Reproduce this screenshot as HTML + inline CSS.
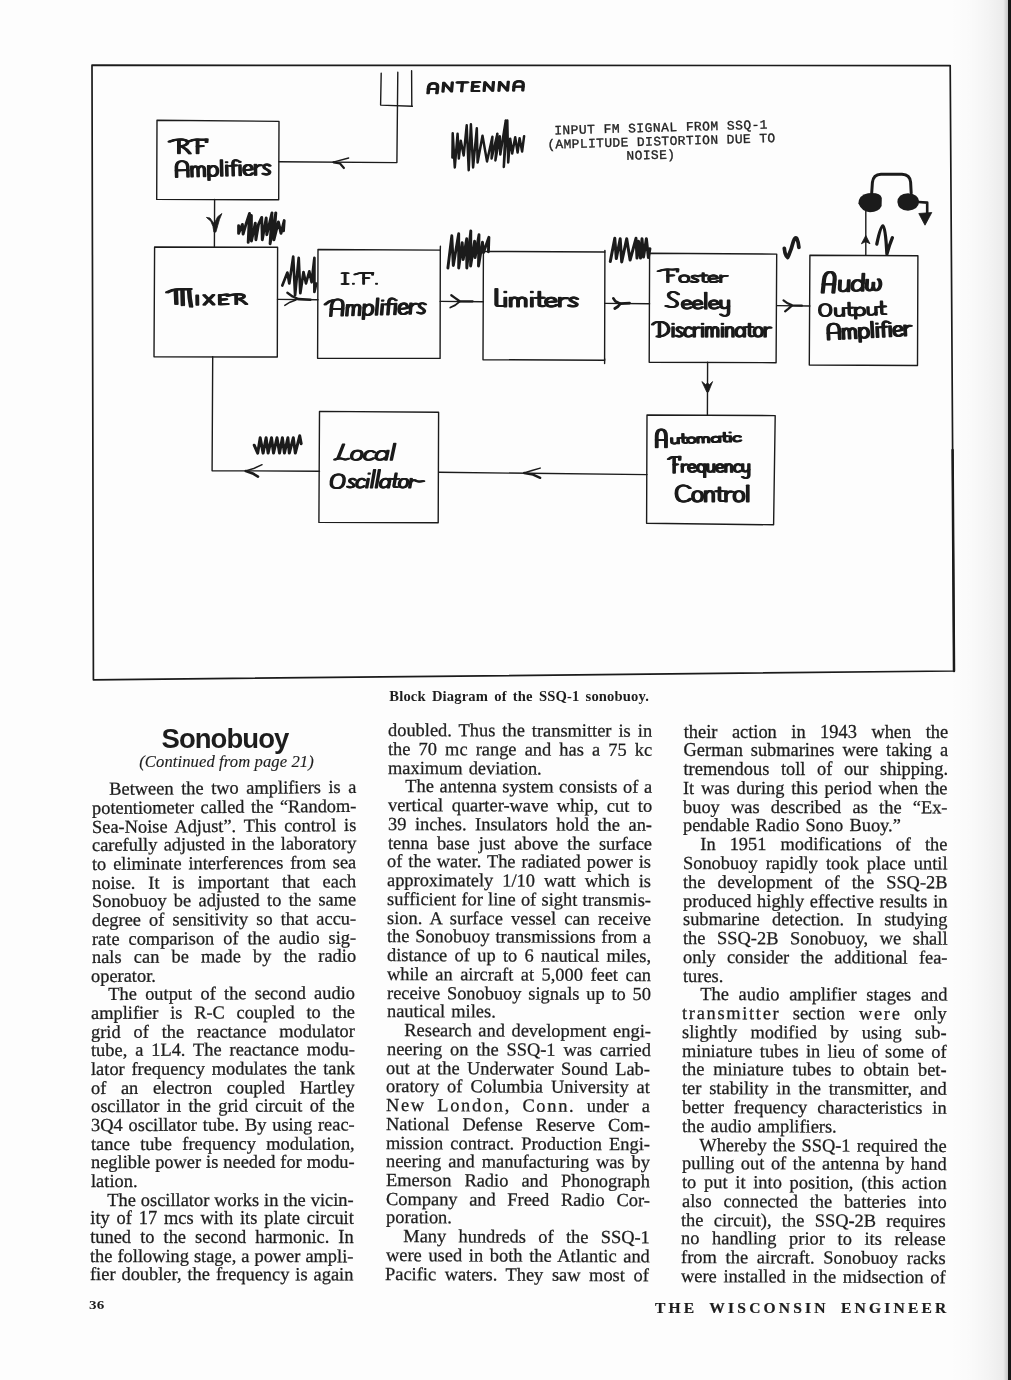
<!DOCTYPE html>
<html><head><meta charset="utf-8"><title>Sonobuoy</title>
<style>
html,body{margin:0;padding:0}
body{width:1011px;height:1380px;position:relative;overflow:hidden;background:#fdfdfd;
 font-family:"Liberation Serif",serif;color:#1d1d1d}
.l{position:absolute;white-space:nowrap;font-size:18.4px;line-height:18.73px;height:18.73px;
 letter-spacing:0.0px;text-align:justify;text-align-last:justify;transform-origin:0 15.5px;box-sizing:content-box;-webkit-text-stroke:.27px #1d1d1d}
.sp{letter-spacing:1.7px;margin-right:-1.7px}
.l.e{text-align:left;text-align-last:left;word-spacing:1.5px}
.abs{position:absolute;white-space:nowrap}
#edge{position:absolute;left:1008px;top:0;width:3px;height:1380px;background:#161616}
#shade{position:absolute;left:950px;top:0;width:58px;height:1380px;
 background:linear-gradient(90deg,rgba(0,0,0,0) 0%,rgba(0,0,0,.012) 35%,rgba(0,0,0,.035) 65%,rgba(0,0,0,.07) 92%,rgba(0,0,0,.22) 100%)}
svg{position:absolute;left:0;top:0}
#pagewrap{position:absolute;left:0;top:0;width:1011px;height:1380px;will-change:transform;opacity:.999;filter:blur(.35px)}
</style></head><body>
<div id="shade"></div><div id="edge"></div><div id="pagewrap">
<svg width="1011" height="720" viewBox="0 0 1011 720">
<path d="M92.0,65.2 L950.2,65.6 L954.0,671.0 L93.4,679.8 Z" fill="none" stroke="#1b1b1b" stroke-width="1.7" stroke-linecap="round" stroke-linejoin="round" />
<path d="M952.6,450.0 L954.0,671.0" fill="none" stroke="#1b1b1b" stroke-width="2.5" stroke-linecap="round" stroke-linejoin="round" />
<path d="M157.0,120.2 L279.0,121.4 L278.7,199.8 L156.7,199.4 Z" fill="none" stroke="#1b1b1b" stroke-width="1.4" stroke-linecap="round" stroke-linejoin="round" />
<path d="M154.6,247.0 L277.6,247.3 L277.3,357.0 L154.0,356.7 Z" fill="none" stroke="#1b1b1b" stroke-width="1.4" stroke-linecap="round" stroke-linejoin="round" />
<path d="M318.0,249.5 L440.3,250.1 L440.1,358.4 L317.6,358.2 Z" fill="none" stroke="#1b1b1b" stroke-width="1.4" stroke-linecap="round" stroke-linejoin="round" />
<path d="M440.4,246.2 L440.3,250.0" fill="none" stroke="#1b1b1b" stroke-width="1.4" stroke-linecap="round" stroke-linejoin="round" />
<path d="M483.4,251.4 L604.9,252.0 L604.6,360.3 L483.0,359.7 Z" fill="none" stroke="#1b1b1b" stroke-width="1.4" stroke-linecap="round" stroke-linejoin="round" />
<path d="M604.9,250.4 L604.9,252.0" fill="none" stroke="#1b1b1b" stroke-width="1.4" stroke-linecap="round" stroke-linejoin="round" />
<path d="M604.7,359.0 L604.6,363.5" fill="none" stroke="#1b1b1b" stroke-width="1.4" stroke-linecap="round" stroke-linejoin="round" />
<path d="M649.6,253.3 L776.7,254.1 L776.1,362.7 L649.2,362.3 Z" fill="none" stroke="#1b1b1b" stroke-width="1.4" stroke-linecap="round" stroke-linejoin="round" />
<path d="M809.9,255.3 L917.9,255.7 L917.5,365.5 L809.3,365.0 Z" fill="none" stroke="#1b1b1b" stroke-width="1.4" stroke-linecap="round" stroke-linejoin="round" />
<path d="M319.5,411.4 L438.6,412.2 L438.2,522.7 L318.9,522.4 Z" fill="none" stroke="#1b1b1b" stroke-width="1.4" stroke-linecap="round" stroke-linejoin="round" />
<path d="M647.0,415.0 L775.2,415.6 L773.6,524.8 L646.6,523.3 Z" fill="none" stroke="#1b1b1b" stroke-width="1.4" stroke-linecap="round" stroke-linejoin="round" />
<path d="M381.2,73.1 L380.6,105.1 L412.4,106.3" fill="none" stroke="#1b1b1b" stroke-width="1.4" stroke-linecap="round" stroke-linejoin="round" />
<path d="M411.6,70.7 L411.8,106.2" fill="none" stroke="#1b1b1b" stroke-width="1.4" stroke-linecap="round" stroke-linejoin="round" />
<path d="M397.8,72.3 L396.9,162.6 L279.0,161.8" fill="none" stroke="#1b1b1b" stroke-width="1.4" stroke-linecap="round" stroke-linejoin="round" />
<path d="M214.6,199.4 L214.4,247.0" fill="none" stroke="#1b1b1b" stroke-width="1.4" stroke-linecap="round" stroke-linejoin="round" />
<path d="M277.5,299.4 L318.0,299.8" fill="none" stroke="#1b1b1b" stroke-width="1.4" stroke-linecap="round" stroke-linejoin="round" />
<path d="M440.2,301.4 L483.4,301.7" fill="none" stroke="#1b1b1b" stroke-width="1.4" stroke-linecap="round" stroke-linejoin="round" />
<path d="M604.8,303.4 L649.6,303.7" fill="none" stroke="#1b1b1b" stroke-width="1.4" stroke-linecap="round" stroke-linejoin="round" />
<path d="M776.6,305.6 L809.9,306.0" fill="none" stroke="#1b1b1b" stroke-width="1.4" stroke-linecap="round" stroke-linejoin="round" />
<path d="M707.6,362.3 L707.4,415.3" fill="none" stroke="#1b1b1b" stroke-width="1.4" stroke-linecap="round" stroke-linejoin="round" />
<path d="M865.8,255.4 L865.8,211.5" fill="none" stroke="#1b1b1b" stroke-width="1.4" stroke-linecap="round" stroke-linejoin="round" />
<path d="M212.7,356.7 L212.1,470.7 L319.5,471.2" fill="none" stroke="#1b1b1b" stroke-width="1.4" stroke-linecap="round" stroke-linejoin="round" />
<path d="M438.6,472.3 L647.0,474.6" fill="none" stroke="#1b1b1b" stroke-width="1.4" stroke-linecap="round" stroke-linejoin="round" />
<path d="M348.7,158.0 L333.2,162.1" fill="none" stroke="#1b1b1b" stroke-width="1.3" stroke-linecap="round" stroke-linejoin="round" />
<path d="M333.6,162.3 L340.0,163.5 L343.9,168.0" fill="none" stroke="#1b1b1b" stroke-width="2.2" stroke-linecap="round" stroke-linejoin="round" />
<path d="M206.4,217.4 L210.0,218.0 L213.6,222.9 L215.2,221.6 L217.7,216.7 L221.9,213.5 L219.5,219.3 L217.7,225.7 L215.9,232.1 L213.9,232.1 L212.9,226.3 L210.8,221.2 Z" fill="#1b1b1b" stroke="#1b1b1b" stroke-width="0.8" stroke-linejoin="round"/>
<path d="M287.4,292.8 L292.5,296.4 L298.3,299.0 L310.5,299.7" fill="none" stroke="#1b1b1b" stroke-width="2.4" stroke-linecap="round" stroke-linejoin="round" />
<path d="M284.8,305.4 L290.0,302.2 L295.8,300.0" fill="none" stroke="#1b1b1b" stroke-width="1.5" stroke-linecap="round" stroke-linejoin="round" />
<path d="M451.3,295.2 L455.3,298.1 L459.7,301.3 L472.6,301.3" fill="none" stroke="#1b1b1b" stroke-width="2.3" stroke-linecap="round" stroke-linejoin="round" />
<path d="M450.3,307.5 L455.3,305.1 L459.7,301.5" fill="none" stroke="#1b1b1b" stroke-width="1.8" stroke-linecap="round" stroke-linejoin="round" />
<path d="M613.3,298.3 L615.3,301.3 L620.2,303.6 L629.6,303.1" fill="none" stroke="#1b1b1b" stroke-width="2.6" stroke-linecap="round" stroke-linejoin="round" />
<path d="M614.8,308.5 L617.6,306.8 L620.2,303.8" fill="none" stroke="#1b1b1b" stroke-width="2.8" stroke-linecap="round" stroke-linejoin="round" />
<path d="M783.5,300.4 L787.7,303.3 L792.2,305.3 L801.9,305.6" fill="none" stroke="#1b1b1b" stroke-width="2.2" stroke-linecap="round" stroke-linejoin="round" />
<path d="M785.1,311.3 L788.2,308.8 L791.9,305.6" fill="none" stroke="#1b1b1b" stroke-width="2.2" stroke-linecap="round" stroke-linejoin="round" />
<path d="M701.9,381.6 L705.5,384.5 L707.5,383.2 L709.6,384.5 L712.6,381.6 L708.4,392.0 L706.8,392.0 Z" fill="#1b1b1b" stroke="#1b1b1b" stroke-width="0.8" stroke-linejoin="round"/>
<path d="M865.8,235.5 L870.0,243.8 L867.0,242.2 L865.8,242.0 L864.6,242.2 L861.4,243.8 Z" fill="#1b1b1b" stroke="#1b1b1b" stroke-width="0.8" stroke-linejoin="round"/>
<path d="M262.1,464.7 L253.7,468.5 L245.6,470.9" fill="none" stroke="#1b1b1b" stroke-width="1.4" stroke-linecap="round" stroke-linejoin="round" />
<path d="M245.8,471.0 L252.7,473.4 L258.0,476.6" fill="none" stroke="#1b1b1b" stroke-width="2.6" stroke-linecap="round" stroke-linejoin="round" />
<path d="M540.2,468.1 L532.0,470.5 L524.0,472.9" fill="none" stroke="#1b1b1b" stroke-width="1.5" stroke-linecap="round" stroke-linejoin="round" />
<path d="M524.2,473.0 L533.0,474.6 L540.2,477.9" fill="none" stroke="#1b1b1b" stroke-width="2.3" stroke-linecap="round" stroke-linejoin="round" />
<path d="M452.4,157.5 L452.7,133.2 L454.8,167.4 L457.6,133.7 L458.8,158.5 L460.8,140.7 L463.7,155.5 L466.7,125.3 L468.7,170.3 L470.9,124.3 L473.1,167.4 L476.8,128.3 L477.6,162.4 L482.5,135.7 L487.0,161.4 L492.4,136.7 L491.6,158.5 L497.4,133.7 L495.4,160.4 L499.8,136.2 L500.3,154.5 L505.8,120.4 L503.8,166.9 L507.3,120.4 L508.2,162.4 L510.2,138.7 L512.2,153.5 L515.2,137.2 L517.6,152.5 L519.6,138.2 L522.1,151.5 L524.1,136.2" fill="none" stroke="#1b1b1b" stroke-width="2.5" stroke-linecap="round" stroke-linejoin="round" />
<path d="M238.6,225.7 L238.6,233.4 L242.4,224.4 L243.1,234.1 L246.3,223.1 L249.5,213.5 L248.2,242.4 L251.4,215.4 L251.4,241.1 L255.3,223.1 L255.9,239.8 L258.5,224.4 L261.7,217.4 L262.3,239.8 L266.2,218.0 L266.8,234.7 L272.0,212.9 L270.1,243.7 L275.8,212.9 L273.9,239.8 L278.4,221.9 L281.0,233.4 L284.2,220.6 L283.5,230.8" fill="none" stroke="#1b1b1b" stroke-width="2.9" stroke-linecap="round" stroke-linejoin="round" />
<path d="M282.3,285.5 L287.4,272.6 L289.3,283.5 L293.2,256.6 L295.1,295.1 L298.7,257.8 L300.3,293.2 L303.5,272.0 L306.0,283.5 L309.3,271.3 L311.6,282.3 L314.4,257.8 L314.4,291.9 L316.3,283.5" fill="none" stroke="#1b1b1b" stroke-width="2.7" stroke-linecap="round" stroke-linejoin="round" />
<path d="M447.9,268.0 L451.8,235.8 L453.3,265.5 L458.7,233.8 L458.7,268.0 L462.2,242.7 L463.2,259.6 L466.7,238.8 L466.8,268.0 L470.8,230.9 L470.6,266.0 L474.6,241.3 L475.1,257.6 L479.0,234.8 L478.5,266.0 L482.5,242.3 L483.5,252.6 L488.9,237.3 L488.4,251.7" fill="none" stroke="#1b1b1b" stroke-width="2.9" stroke-linecap="round" stroke-linejoin="round" />
<path d="M610.3,261.5 L614.8,238.3 L616.3,258.6 L620.2,238.8 L621.7,262.0 L626.7,238.8 L630.1,260.1 L636.0,238.3 L637.0,258.1 L638.5,241.3 L640.5,258.1 L642.0,238.8 L643.5,257.1 L646.4,238.8 L648.4,257.6 L649.9,248.7" fill="none" stroke="#1b1b1b" stroke-width="3.0" stroke-linecap="round" stroke-linejoin="round" />
<path d="M254.2,445.2 L257.7,453.1 L260.2,437.8 L263.1,453.1 L266.1,437.8 L268.1,453.1 L271.5,437.8 L273.5,453.1 L277.0,437.8 L279.5,453.1 L282.4,437.8 L284.4,453.1 L287.9,437.8 L289.3,453.1 L293.3,437.8 L295.3,453.1 L299.7,435.8 L301.2,443.7" fill="none" stroke="#1b1b1b" stroke-width="3.0" stroke-linecap="round" stroke-linejoin="round" />
<path d="M784.3,248.3 Q785.1,256.2 787.7,257.5 Q791.0,250.8 793.5,241.0 Q795.2,236.0 796.9,238.7 Q798.6,242.4 798.9,247.4" fill="none" stroke="#1b1b1b" stroke-width="3.7" stroke-linecap="round" stroke-linejoin="round"/>
<path d="M876.8,244.1 Q880.5,226 883,225.8 Q885.5,226 886.9,254 Q889,246 892.4,237.7" fill="none" stroke="#1b1b1b" stroke-width="3.3" stroke-linecap="round" stroke-linejoin="round"/>
<path d="M871.7,193 L872.4,182.5 Q873.2,174.4 881,174.2 L902,174.2 Q910,174.6 910.6,182 L911.2,193" fill="none" stroke="#1b1b1b" stroke-width="3" stroke-linecap="round"/>
<path d="M858.4,203.5 Q858.6,195 868,193.2 Q880.5,192 881.8,198 L881.6,206 Q879,212 870,212.2 Q862,212 858.4,203.5 Z" fill="#1b1b1b"/>
<path d="M897.4,202 Q897.6,194 908,193.2 Q918.6,194 919.2,201.6 Q918.6,210 908,210.7 Q898,210.4 897.4,202 Z" fill="#1b1b1b"/>
<path d="M918.5,202.0 L927.2,202.6 L927.2,214.0" fill="none" stroke="#1b1b1b" stroke-width="2.6" stroke-linecap="round" stroke-linejoin="round" />
<path d="M918.8,213.5 L931.8,212.5 L925.0,225.2 Z" fill="#1b1b1b" stroke="#1b1b1b" stroke-width="0.8" stroke-linejoin="round"/>
<text transform="translate(554.4,134.4) rotate(-1.55)" font-family="Liberation Mono, monospace" font-size="12.9" fill="#222" stroke="#222" stroke-width="0.35" textLength="213.3" lengthAdjust="spacing">INPUT FM SIGNAL FROM SSQ-1</text>
<text transform="translate(547.4,148.6) rotate(-1.65)" font-family="Liberation Mono, monospace" font-size="12.9" fill="#222" stroke="#222" stroke-width="0.35" textLength="228" lengthAdjust="spacing">(AMPLITUDE DISTORTION DUE TO</text>
<text transform="translate(626.6,159.7) rotate(-1.4)" font-family="Liberation Mono, monospace" font-size="12.9" fill="#222" stroke="#222" stroke-width="0.35" textLength="48.5" lengthAdjust="spacing">NOISE)</text>
<g fill="none" stroke="#1b1b1b" stroke-width="1.9" stroke-linecap="round" stroke-linejoin="round"><g transform="translate(172.90,153.33) rotate(0.00) skewX(-0.0) scale(1.481,0.897)"><path transform="translate(0.00,0)" d="M3.4,-14.6 L3.4,0" vector-effect="non-scaling-stroke"/><path transform="translate(0.00,0)" d="M-3,-13 Q1,-16 5.6,-15.4 Q9.4,-14.8 9.2,-11.6 Q8.8,-8.4 4,-7.8" vector-effect="non-scaling-stroke"/><path transform="translate(0.00,0)" d="M5.4,-7.6 Q8.6,-5 10.8,.2" vector-effect="non-scaling-stroke"/><path transform="translate(12.60,0)" d="M3.4,-14.8 L3.4,0" vector-effect="non-scaling-stroke"/><path transform="translate(12.60,0)" d="M-2.6,-13.2 Q1,-16 5,-15.2 Q7.6,-14.8 9.6,-15.6 L9.4,-12.6" vector-effect="non-scaling-stroke"/><path transform="translate(12.60,0)" d="M3.4,-7.8 L7,-8.2" vector-effect="non-scaling-stroke"/></g><g transform="translate(173.90,153.33) rotate(0.00) skewX(-0.0) scale(1.481,0.897)"><path transform="translate(0.00,0)" d="M3.4,-14.6 L3.4,0" vector-effect="non-scaling-stroke"/><path transform="translate(0.00,0)" d="M-3,-13 Q1,-16 5.6,-15.4 Q9.4,-14.8 9.2,-11.6 Q8.8,-8.4 4,-7.8" vector-effect="non-scaling-stroke"/><path transform="translate(0.00,0)" d="M5.4,-7.6 Q8.6,-5 10.8,.2" vector-effect="non-scaling-stroke"/><path transform="translate(12.60,0)" d="M3.4,-14.8 L3.4,0" vector-effect="non-scaling-stroke"/><path transform="translate(12.60,0)" d="M-2.6,-13.2 Q1,-16 5,-15.2 Q7.6,-14.8 9.6,-15.6 L9.4,-12.6" vector-effect="non-scaling-stroke"/><path transform="translate(12.60,0)" d="M3.4,-7.8 L7,-8.2" vector-effect="non-scaling-stroke"/></g><g transform="translate(174.90,153.33) rotate(0.00) skewX(-0.0) scale(1.481,0.897)"><path transform="translate(0.00,0)" d="M3.4,-14.6 L3.4,0" vector-effect="non-scaling-stroke"/><path transform="translate(0.00,0)" d="M-3,-13 Q1,-16 5.6,-15.4 Q9.4,-14.8 9.2,-11.6 Q8.8,-8.4 4,-7.8" vector-effect="non-scaling-stroke"/><path transform="translate(0.00,0)" d="M5.4,-7.6 Q8.6,-5 10.8,.2" vector-effect="non-scaling-stroke"/><path transform="translate(12.60,0)" d="M3.4,-14.8 L3.4,0" vector-effect="non-scaling-stroke"/><path transform="translate(12.60,0)" d="M-2.6,-13.2 Q1,-16 5,-15.2 Q7.6,-14.8 9.6,-15.6 L9.4,-12.6" vector-effect="non-scaling-stroke"/><path transform="translate(12.60,0)" d="M3.4,-7.8 L7,-8.2" vector-effect="non-scaling-stroke"/></g></g>
<g fill="none" stroke="#1b1b1b" stroke-width="1.8" stroke-linecap="round" stroke-linejoin="round"><g transform="translate(173.70,177.03) rotate(-1.50) skewX(-0.0) scale(1.561,1.017)"><path transform="translate(0.00,0)" d="M1.3,0 L1.3,-10 Q1.6,-15.5 4.9,-15.5 Q8.3,-15.5 8.6,-10 L8.6,0" vector-effect="non-scaling-stroke"/><path transform="translate(0.00,0)" d="M1.3,-6.4 L8.6,-6.4" vector-effect="non-scaling-stroke"/><path transform="translate(10.00,0)" d="M1.2,-10 L1.2,0" vector-effect="non-scaling-stroke"/><path transform="translate(10.00,0)" d="M1.2,-7.4 Q2.4,-10.6 3.8,-9.9 Q5.1,-9.2 5.1,-7 L5.1,0" vector-effect="non-scaling-stroke"/><path transform="translate(10.00,0)" d="M5.1,-7.4 Q6.4,-10.6 7.8,-9.9 Q9.2,-9.2 9.2,-7 L9.2,0" vector-effect="non-scaling-stroke"/><path transform="translate(20.80,0)" d="M1.2,-10 L1.2,3.8" vector-effect="non-scaling-stroke"/><path transform="translate(20.80,0)" d="M1.2,-7 Q3,-10.6 4.9,-9.8 Q6.8,-8.8 6.8,-5 Q6.8,-.6 4.3,0 Q2.6,.3 1.2,-2" vector-effect="non-scaling-stroke"/><path transform="translate(28.60,0)" d="M1.65,-15.5 L1.65,0" vector-effect="non-scaling-stroke"/><path transform="translate(31.90,0)" d="M1.65,-10 L1.65,0" vector-effect="non-scaling-stroke"/><path transform="translate(31.90,0)" d="M1.65,-13.4 L1.65,-13.1" vector-effect="non-scaling-stroke"/><path transform="translate(35.20,0)" d="M5.6,-14.4 Q3,-16.4 2.4,-12.6 L2.4,0" vector-effect="non-scaling-stroke"/><path transform="translate(35.20,0)" d="M.2,-9.6 L4.8,-9.8" vector-effect="non-scaling-stroke"/><path transform="translate(40.40,0)" d="M1.65,-10 L1.65,0" vector-effect="non-scaling-stroke"/><path transform="translate(40.40,0)" d="M1.65,-13.4 L1.65,-13.1" vector-effect="non-scaling-stroke"/><path transform="translate(43.70,0)" d="M1,-4.8 L6.1,-5.6 Q6,-10 3.5,-10 Q.8,-9.6 .8,-5 Q1,0 3.8,0 Q5.4,0 6.4,-1.8" vector-effect="non-scaling-stroke"/><path transform="translate(50.70,0)" d="M1.2,-10 L1.2,0" vector-effect="non-scaling-stroke"/><path transform="translate(50.70,0)" d="M1.2,-6.8 Q2.8,-10.4 5.2,-9.3" vector-effect="non-scaling-stroke"/><path transform="translate(56.10,0)" d="M5.1,-8.6 Q3.5,-10.6 2,-9.6 Q.5,-8 2,-6 L3.9,-4.2 Q5.6,-2.4 4.3,-.8 Q2.9,.7 .6,-1.1" vector-effect="non-scaling-stroke"/></g><g transform="translate(174.60,177.03) rotate(-1.50) skewX(-0.0) scale(1.561,1.017)"><path transform="translate(0.00,0)" d="M1.3,0 L1.3,-10 Q1.6,-15.5 4.9,-15.5 Q8.3,-15.5 8.6,-10 L8.6,0" vector-effect="non-scaling-stroke"/><path transform="translate(0.00,0)" d="M1.3,-6.4 L8.6,-6.4" vector-effect="non-scaling-stroke"/><path transform="translate(10.00,0)" d="M1.2,-10 L1.2,0" vector-effect="non-scaling-stroke"/><path transform="translate(10.00,0)" d="M1.2,-7.4 Q2.4,-10.6 3.8,-9.9 Q5.1,-9.2 5.1,-7 L5.1,0" vector-effect="non-scaling-stroke"/><path transform="translate(10.00,0)" d="M5.1,-7.4 Q6.4,-10.6 7.8,-9.9 Q9.2,-9.2 9.2,-7 L9.2,0" vector-effect="non-scaling-stroke"/><path transform="translate(20.80,0)" d="M1.2,-10 L1.2,3.8" vector-effect="non-scaling-stroke"/><path transform="translate(20.80,0)" d="M1.2,-7 Q3,-10.6 4.9,-9.8 Q6.8,-8.8 6.8,-5 Q6.8,-.6 4.3,0 Q2.6,.3 1.2,-2" vector-effect="non-scaling-stroke"/><path transform="translate(28.60,0)" d="M1.65,-15.5 L1.65,0" vector-effect="non-scaling-stroke"/><path transform="translate(31.90,0)" d="M1.65,-10 L1.65,0" vector-effect="non-scaling-stroke"/><path transform="translate(31.90,0)" d="M1.65,-13.4 L1.65,-13.1" vector-effect="non-scaling-stroke"/><path transform="translate(35.20,0)" d="M5.6,-14.4 Q3,-16.4 2.4,-12.6 L2.4,0" vector-effect="non-scaling-stroke"/><path transform="translate(35.20,0)" d="M.2,-9.6 L4.8,-9.8" vector-effect="non-scaling-stroke"/><path transform="translate(40.40,0)" d="M1.65,-10 L1.65,0" vector-effect="non-scaling-stroke"/><path transform="translate(40.40,0)" d="M1.65,-13.4 L1.65,-13.1" vector-effect="non-scaling-stroke"/><path transform="translate(43.70,0)" d="M1,-4.8 L6.1,-5.6 Q6,-10 3.5,-10 Q.8,-9.6 .8,-5 Q1,0 3.8,0 Q5.4,0 6.4,-1.8" vector-effect="non-scaling-stroke"/><path transform="translate(50.70,0)" d="M1.2,-10 L1.2,0" vector-effect="non-scaling-stroke"/><path transform="translate(50.70,0)" d="M1.2,-6.8 Q2.8,-10.4 5.2,-9.3" vector-effect="non-scaling-stroke"/><path transform="translate(56.10,0)" d="M5.1,-8.6 Q3.5,-10.6 2,-9.6 Q.5,-8 2,-6 L3.9,-4.2 Q5.6,-2.4 4.3,-.8 Q2.9,.7 .6,-1.1" vector-effect="non-scaling-stroke"/></g><g transform="translate(175.50,177.03) rotate(-1.50) skewX(-0.0) scale(1.561,1.017)"><path transform="translate(0.00,0)" d="M1.3,0 L1.3,-10 Q1.6,-15.5 4.9,-15.5 Q8.3,-15.5 8.6,-10 L8.6,0" vector-effect="non-scaling-stroke"/><path transform="translate(0.00,0)" d="M1.3,-6.4 L8.6,-6.4" vector-effect="non-scaling-stroke"/><path transform="translate(10.00,0)" d="M1.2,-10 L1.2,0" vector-effect="non-scaling-stroke"/><path transform="translate(10.00,0)" d="M1.2,-7.4 Q2.4,-10.6 3.8,-9.9 Q5.1,-9.2 5.1,-7 L5.1,0" vector-effect="non-scaling-stroke"/><path transform="translate(10.00,0)" d="M5.1,-7.4 Q6.4,-10.6 7.8,-9.9 Q9.2,-9.2 9.2,-7 L9.2,0" vector-effect="non-scaling-stroke"/><path transform="translate(20.80,0)" d="M1.2,-10 L1.2,3.8" vector-effect="non-scaling-stroke"/><path transform="translate(20.80,0)" d="M1.2,-7 Q3,-10.6 4.9,-9.8 Q6.8,-8.8 6.8,-5 Q6.8,-.6 4.3,0 Q2.6,.3 1.2,-2" vector-effect="non-scaling-stroke"/><path transform="translate(28.60,0)" d="M1.65,-15.5 L1.65,0" vector-effect="non-scaling-stroke"/><path transform="translate(31.90,0)" d="M1.65,-10 L1.65,0" vector-effect="non-scaling-stroke"/><path transform="translate(31.90,0)" d="M1.65,-13.4 L1.65,-13.1" vector-effect="non-scaling-stroke"/><path transform="translate(35.20,0)" d="M5.6,-14.4 Q3,-16.4 2.4,-12.6 L2.4,0" vector-effect="non-scaling-stroke"/><path transform="translate(35.20,0)" d="M.2,-9.6 L4.8,-9.8" vector-effect="non-scaling-stroke"/><path transform="translate(40.40,0)" d="M1.65,-10 L1.65,0" vector-effect="non-scaling-stroke"/><path transform="translate(40.40,0)" d="M1.65,-13.4 L1.65,-13.1" vector-effect="non-scaling-stroke"/><path transform="translate(43.70,0)" d="M1,-4.8 L6.1,-5.6 Q6,-10 3.5,-10 Q.8,-9.6 .8,-5 Q1,0 3.8,0 Q5.4,0 6.4,-1.8" vector-effect="non-scaling-stroke"/><path transform="translate(50.70,0)" d="M1.2,-10 L1.2,0" vector-effect="non-scaling-stroke"/><path transform="translate(50.70,0)" d="M1.2,-6.8 Q2.8,-10.4 5.2,-9.3" vector-effect="non-scaling-stroke"/><path transform="translate(56.10,0)" d="M5.1,-8.6 Q3.5,-10.6 2,-9.6 Q.5,-8 2,-6 L3.9,-4.2 Q5.6,-2.4 4.3,-.8 Q2.9,.7 .6,-1.1" vector-effect="non-scaling-stroke"/></g></g>
<g fill="none" stroke="#1b1b1b" stroke-width="2.0" stroke-linecap="round" stroke-linejoin="round"><g transform="translate(169.55,305.78) rotate(0.00) skewX(-0.0) scale(1.472,1.085)"><path transform="translate(0.00,0)" d="M-2.4,-12.4 Q2,-16 8,-15.2 Q12,-15 13.4,-15.4" vector-effect="non-scaling-stroke"/><path transform="translate(0.00,0)" d="M3.4,-14.4 L3.8,-1.6" vector-effect="non-scaling-stroke"/><path transform="translate(0.00,0)" d="M7.9,-14.8 L8.2,-.6" vector-effect="non-scaling-stroke"/><path transform="translate(0.00,0)" d="M12.4,-15 Q12.6,-8 13.8,.8" vector-effect="non-scaling-stroke"/></g><g transform="translate(170.80,305.78) rotate(0.00) skewX(-0.0) scale(1.472,1.085)"><path transform="translate(0.00,0)" d="M-2.4,-12.4 Q2,-16 8,-15.2 Q12,-15 13.4,-15.4" vector-effect="non-scaling-stroke"/><path transform="translate(0.00,0)" d="M3.4,-14.4 L3.8,-1.6" vector-effect="non-scaling-stroke"/><path transform="translate(0.00,0)" d="M7.9,-14.8 L8.2,-.6" vector-effect="non-scaling-stroke"/><path transform="translate(0.00,0)" d="M12.4,-15 Q12.6,-8 13.8,.8" vector-effect="non-scaling-stroke"/></g><g transform="translate(172.05,305.78) rotate(0.00) skewX(-0.0) scale(1.472,1.085)"><path transform="translate(0.00,0)" d="M-2.4,-12.4 Q2,-16 8,-15.2 Q12,-15 13.4,-15.4" vector-effect="non-scaling-stroke"/><path transform="translate(0.00,0)" d="M3.4,-14.4 L3.8,-1.6" vector-effect="non-scaling-stroke"/><path transform="translate(0.00,0)" d="M7.9,-14.8 L8.2,-.6" vector-effect="non-scaling-stroke"/><path transform="translate(0.00,0)" d="M12.4,-15 Q12.6,-8 13.8,.8" vector-effect="non-scaling-stroke"/></g></g>
<g fill="none" stroke="#1b1b1b" stroke-width="1.9" stroke-linecap="round" stroke-linejoin="round"><g transform="translate(193.50,304.86) rotate(-1.00) skewX(-0.0) scale(1.366,0.640)"><path transform="translate(0.00,0)" d="M2.1,-14.6 L2.1,0" vector-effect="non-scaling-stroke"/><path transform="translate(6.40,0)" d="M.8,-15 L7.6,0" vector-effect="non-scaling-stroke"/><path transform="translate(6.40,0)" d="M7.6,-15 L.8,0" vector-effect="non-scaling-stroke"/><path transform="translate(17.00,0)" d="M1.6,-14.4 L1.6,0 L7.4,-.4" vector-effect="non-scaling-stroke"/><path transform="translate(17.00,0)" d="M1.6,-14.4 L7.4,-15.4" vector-effect="non-scaling-stroke"/><path transform="translate(17.00,0)" d="M1.6,-7.4 L6.4,-8" vector-effect="non-scaling-stroke"/><path transform="translate(27.20,0)" d="M3.4,-14.6 L3.4,0" vector-effect="non-scaling-stroke"/><path transform="translate(27.20,0)" d="M-3,-13 Q1,-16 5.6,-15.4 Q9.4,-14.8 9.2,-11.6 Q8.8,-8.4 4,-7.8" vector-effect="non-scaling-stroke"/><path transform="translate(27.20,0)" d="M5.4,-7.6 Q8.6,-5 10.8,.2" vector-effect="non-scaling-stroke"/></g><g transform="translate(194.50,304.86) rotate(-1.00) skewX(-0.0) scale(1.366,0.640)"><path transform="translate(0.00,0)" d="M2.1,-14.6 L2.1,0" vector-effect="non-scaling-stroke"/><path transform="translate(6.40,0)" d="M.8,-15 L7.6,0" vector-effect="non-scaling-stroke"/><path transform="translate(6.40,0)" d="M7.6,-15 L.8,0" vector-effect="non-scaling-stroke"/><path transform="translate(17.00,0)" d="M1.6,-14.4 L1.6,0 L7.4,-.4" vector-effect="non-scaling-stroke"/><path transform="translate(17.00,0)" d="M1.6,-14.4 L7.4,-15.4" vector-effect="non-scaling-stroke"/><path transform="translate(17.00,0)" d="M1.6,-7.4 L6.4,-8" vector-effect="non-scaling-stroke"/><path transform="translate(27.20,0)" d="M3.4,-14.6 L3.4,0" vector-effect="non-scaling-stroke"/><path transform="translate(27.20,0)" d="M-3,-13 Q1,-16 5.6,-15.4 Q9.4,-14.8 9.2,-11.6 Q8.8,-8.4 4,-7.8" vector-effect="non-scaling-stroke"/><path transform="translate(27.20,0)" d="M5.4,-7.6 Q8.6,-5 10.8,.2" vector-effect="non-scaling-stroke"/></g><g transform="translate(195.50,304.86) rotate(-1.00) skewX(-0.0) scale(1.366,0.640)"><path transform="translate(0.00,0)" d="M2.1,-14.6 L2.1,0" vector-effect="non-scaling-stroke"/><path transform="translate(6.40,0)" d="M.8,-15 L7.6,0" vector-effect="non-scaling-stroke"/><path transform="translate(6.40,0)" d="M7.6,-15 L.8,0" vector-effect="non-scaling-stroke"/><path transform="translate(17.00,0)" d="M1.6,-14.4 L1.6,0 L7.4,-.4" vector-effect="non-scaling-stroke"/><path transform="translate(17.00,0)" d="M1.6,-14.4 L7.4,-15.4" vector-effect="non-scaling-stroke"/><path transform="translate(17.00,0)" d="M1.6,-7.4 L6.4,-8" vector-effect="non-scaling-stroke"/><path transform="translate(27.20,0)" d="M3.4,-14.6 L3.4,0" vector-effect="non-scaling-stroke"/><path transform="translate(27.20,0)" d="M-3,-13 Q1,-16 5.6,-15.4 Q9.4,-14.8 9.2,-11.6 Q8.8,-8.4 4,-7.8" vector-effect="non-scaling-stroke"/><path transform="translate(27.20,0)" d="M5.4,-7.6 Q8.6,-5 10.8,.2" vector-effect="non-scaling-stroke"/></g></g>
<g fill="none" stroke="#1b1b1b" stroke-width="1.5" stroke-linecap="round" stroke-linejoin="round"><g transform="translate(340.70,283.97) rotate(0.00) skewX(-0.0) scale(1.482,0.722)"><path transform="translate(0.00,0)" d="M2.5,-15 L2.5,0" vector-effect="non-scaling-stroke"/><path transform="translate(0.00,0)" d="M.4,-15 L4.6,-15" vector-effect="non-scaling-stroke"/><path transform="translate(0.00,0)" d="M.4,0 L4.6,0" vector-effect="non-scaling-stroke"/><path transform="translate(6.50,0)" d="M1.6,-.5 L1.6,-.1" vector-effect="non-scaling-stroke"/><path transform="translate(11.60,0)" d="M3.4,-14.8 L3.4,0" vector-effect="non-scaling-stroke"/><path transform="translate(11.60,0)" d="M-2.6,-13.2 Q1,-16 5,-15.2 Q7.6,-14.8 9.6,-15.6 L9.4,-12.6" vector-effect="non-scaling-stroke"/><path transform="translate(11.60,0)" d="M3.4,-7.8 L7,-8.2" vector-effect="non-scaling-stroke"/><path transform="translate(22.10,0)" d="M1.6,-.5 L1.6,-.1" vector-effect="non-scaling-stroke"/></g><g transform="translate(341.40,283.97) rotate(0.00) skewX(-0.0) scale(1.482,0.722)"><path transform="translate(0.00,0)" d="M2.5,-15 L2.5,0" vector-effect="non-scaling-stroke"/><path transform="translate(0.00,0)" d="M.4,-15 L4.6,-15" vector-effect="non-scaling-stroke"/><path transform="translate(0.00,0)" d="M.4,0 L4.6,0" vector-effect="non-scaling-stroke"/><path transform="translate(6.50,0)" d="M1.6,-.5 L1.6,-.1" vector-effect="non-scaling-stroke"/><path transform="translate(11.60,0)" d="M3.4,-14.8 L3.4,0" vector-effect="non-scaling-stroke"/><path transform="translate(11.60,0)" d="M-2.6,-13.2 Q1,-16 5,-15.2 Q7.6,-14.8 9.6,-15.6 L9.4,-12.6" vector-effect="non-scaling-stroke"/><path transform="translate(11.60,0)" d="M3.4,-7.8 L7,-8.2" vector-effect="non-scaling-stroke"/><path transform="translate(22.10,0)" d="M1.6,-.5 L1.6,-.1" vector-effect="non-scaling-stroke"/></g><g transform="translate(342.10,283.97) rotate(0.00) skewX(-0.0) scale(1.482,0.722)"><path transform="translate(0.00,0)" d="M2.5,-15 L2.5,0" vector-effect="non-scaling-stroke"/><path transform="translate(0.00,0)" d="M.4,-15 L4.6,-15" vector-effect="non-scaling-stroke"/><path transform="translate(0.00,0)" d="M.4,0 L4.6,0" vector-effect="non-scaling-stroke"/><path transform="translate(6.50,0)" d="M1.6,-.5 L1.6,-.1" vector-effect="non-scaling-stroke"/><path transform="translate(11.60,0)" d="M3.4,-14.8 L3.4,0" vector-effect="non-scaling-stroke"/><path transform="translate(11.60,0)" d="M-2.6,-13.2 Q1,-16 5,-15.2 Q7.6,-14.8 9.6,-15.6 L9.4,-12.6" vector-effect="non-scaling-stroke"/><path transform="translate(11.60,0)" d="M3.4,-7.8 L7,-8.2" vector-effect="non-scaling-stroke"/><path transform="translate(22.10,0)" d="M1.6,-.5 L1.6,-.1" vector-effect="non-scaling-stroke"/></g></g>
<g fill="none" stroke="#1b1b1b" stroke-width="1.8" stroke-linecap="round" stroke-linejoin="round"><g transform="translate(326.30,316.08) rotate(-1.50) skewX(-6.0) scale(1.557,1.059)"><path transform="translate(0.00,0)" d="M-1.8,-11 Q.2,-14.4 3,-15" vector-effect="non-scaling-stroke"/><path transform="translate(0.00,0)" d="M2.3,0 L2.3,-10 Q2.6,-15.5 5.9,-15.5 Q9.3,-15.5 9.6,-10 L9.6,0" vector-effect="non-scaling-stroke"/><path transform="translate(0.00,0)" d="M2.3,-6.4 L9.6,-6.4" vector-effect="non-scaling-stroke"/><path transform="translate(11.40,0)" d="M1.2,-10 L1.2,0" vector-effect="non-scaling-stroke"/><path transform="translate(11.40,0)" d="M1.2,-7.4 Q2.4,-10.6 3.8,-9.9 Q5.1,-9.2 5.1,-7 L5.1,0" vector-effect="non-scaling-stroke"/><path transform="translate(11.40,0)" d="M5.1,-7.4 Q6.4,-10.6 7.8,-9.9 Q9.2,-9.2 9.2,-7 L9.2,0" vector-effect="non-scaling-stroke"/><path transform="translate(22.20,0)" d="M1.2,-10 L1.2,3.8" vector-effect="non-scaling-stroke"/><path transform="translate(22.20,0)" d="M1.2,-7 Q3,-10.6 4.9,-9.8 Q6.8,-8.8 6.8,-5 Q6.8,-.6 4.3,0 Q2.6,.3 1.2,-2" vector-effect="non-scaling-stroke"/><path transform="translate(30.00,0)" d="M1.65,-15.5 L1.65,0" vector-effect="non-scaling-stroke"/><path transform="translate(33.30,0)" d="M1.65,-10 L1.65,0" vector-effect="non-scaling-stroke"/><path transform="translate(33.30,0)" d="M1.65,-13.4 L1.65,-13.1" vector-effect="non-scaling-stroke"/><path transform="translate(36.60,0)" d="M5.6,-14.4 Q3,-16.4 2.4,-12.6 L2.4,0" vector-effect="non-scaling-stroke"/><path transform="translate(36.60,0)" d="M.2,-9.6 L4.8,-9.8" vector-effect="non-scaling-stroke"/><path transform="translate(41.80,0)" d="M1.65,-10 L1.65,0" vector-effect="non-scaling-stroke"/><path transform="translate(41.80,0)" d="M1.65,-13.4 L1.65,-13.1" vector-effect="non-scaling-stroke"/><path transform="translate(45.10,0)" d="M1,-4.8 L6.1,-5.6 Q6,-10 3.5,-10 Q.8,-9.6 .8,-5 Q1,0 3.8,0 Q5.4,0 6.4,-1.8" vector-effect="non-scaling-stroke"/><path transform="translate(52.10,0)" d="M1.2,-10 L1.2,0" vector-effect="non-scaling-stroke"/><path transform="translate(52.10,0)" d="M1.2,-6.8 Q2.8,-10.4 5.2,-9.3" vector-effect="non-scaling-stroke"/><path transform="translate(57.50,0)" d="M5.1,-8.6 Q3.5,-10.6 2,-9.6 Q.5,-8 2,-6 L3.9,-4.2 Q5.6,-2.4 4.3,-.8 Q2.9,.7 .6,-1.1" vector-effect="non-scaling-stroke"/></g><g transform="translate(327.20,316.08) rotate(-1.50) skewX(-6.0) scale(1.557,1.059)"><path transform="translate(0.00,0)" d="M-1.8,-11 Q.2,-14.4 3,-15" vector-effect="non-scaling-stroke"/><path transform="translate(0.00,0)" d="M2.3,0 L2.3,-10 Q2.6,-15.5 5.9,-15.5 Q9.3,-15.5 9.6,-10 L9.6,0" vector-effect="non-scaling-stroke"/><path transform="translate(0.00,0)" d="M2.3,-6.4 L9.6,-6.4" vector-effect="non-scaling-stroke"/><path transform="translate(11.40,0)" d="M1.2,-10 L1.2,0" vector-effect="non-scaling-stroke"/><path transform="translate(11.40,0)" d="M1.2,-7.4 Q2.4,-10.6 3.8,-9.9 Q5.1,-9.2 5.1,-7 L5.1,0" vector-effect="non-scaling-stroke"/><path transform="translate(11.40,0)" d="M5.1,-7.4 Q6.4,-10.6 7.8,-9.9 Q9.2,-9.2 9.2,-7 L9.2,0" vector-effect="non-scaling-stroke"/><path transform="translate(22.20,0)" d="M1.2,-10 L1.2,3.8" vector-effect="non-scaling-stroke"/><path transform="translate(22.20,0)" d="M1.2,-7 Q3,-10.6 4.9,-9.8 Q6.8,-8.8 6.8,-5 Q6.8,-.6 4.3,0 Q2.6,.3 1.2,-2" vector-effect="non-scaling-stroke"/><path transform="translate(30.00,0)" d="M1.65,-15.5 L1.65,0" vector-effect="non-scaling-stroke"/><path transform="translate(33.30,0)" d="M1.65,-10 L1.65,0" vector-effect="non-scaling-stroke"/><path transform="translate(33.30,0)" d="M1.65,-13.4 L1.65,-13.1" vector-effect="non-scaling-stroke"/><path transform="translate(36.60,0)" d="M5.6,-14.4 Q3,-16.4 2.4,-12.6 L2.4,0" vector-effect="non-scaling-stroke"/><path transform="translate(36.60,0)" d="M.2,-9.6 L4.8,-9.8" vector-effect="non-scaling-stroke"/><path transform="translate(41.80,0)" d="M1.65,-10 L1.65,0" vector-effect="non-scaling-stroke"/><path transform="translate(41.80,0)" d="M1.65,-13.4 L1.65,-13.1" vector-effect="non-scaling-stroke"/><path transform="translate(45.10,0)" d="M1,-4.8 L6.1,-5.6 Q6,-10 3.5,-10 Q.8,-9.6 .8,-5 Q1,0 3.8,0 Q5.4,0 6.4,-1.8" vector-effect="non-scaling-stroke"/><path transform="translate(52.10,0)" d="M1.2,-10 L1.2,0" vector-effect="non-scaling-stroke"/><path transform="translate(52.10,0)" d="M1.2,-6.8 Q2.8,-10.4 5.2,-9.3" vector-effect="non-scaling-stroke"/><path transform="translate(57.50,0)" d="M5.1,-8.6 Q3.5,-10.6 2,-9.6 Q.5,-8 2,-6 L3.9,-4.2 Q5.6,-2.4 4.3,-.8 Q2.9,.7 .6,-1.1" vector-effect="non-scaling-stroke"/></g><g transform="translate(328.10,316.08) rotate(-1.50) skewX(-6.0) scale(1.557,1.059)"><path transform="translate(0.00,0)" d="M-1.8,-11 Q.2,-14.4 3,-15" vector-effect="non-scaling-stroke"/><path transform="translate(0.00,0)" d="M2.3,0 L2.3,-10 Q2.6,-15.5 5.9,-15.5 Q9.3,-15.5 9.6,-10 L9.6,0" vector-effect="non-scaling-stroke"/><path transform="translate(0.00,0)" d="M2.3,-6.4 L9.6,-6.4" vector-effect="non-scaling-stroke"/><path transform="translate(11.40,0)" d="M1.2,-10 L1.2,0" vector-effect="non-scaling-stroke"/><path transform="translate(11.40,0)" d="M1.2,-7.4 Q2.4,-10.6 3.8,-9.9 Q5.1,-9.2 5.1,-7 L5.1,0" vector-effect="non-scaling-stroke"/><path transform="translate(11.40,0)" d="M5.1,-7.4 Q6.4,-10.6 7.8,-9.9 Q9.2,-9.2 9.2,-7 L9.2,0" vector-effect="non-scaling-stroke"/><path transform="translate(22.20,0)" d="M1.2,-10 L1.2,3.8" vector-effect="non-scaling-stroke"/><path transform="translate(22.20,0)" d="M1.2,-7 Q3,-10.6 4.9,-9.8 Q6.8,-8.8 6.8,-5 Q6.8,-.6 4.3,0 Q2.6,.3 1.2,-2" vector-effect="non-scaling-stroke"/><path transform="translate(30.00,0)" d="M1.65,-15.5 L1.65,0" vector-effect="non-scaling-stroke"/><path transform="translate(33.30,0)" d="M1.65,-10 L1.65,0" vector-effect="non-scaling-stroke"/><path transform="translate(33.30,0)" d="M1.65,-13.4 L1.65,-13.1" vector-effect="non-scaling-stroke"/><path transform="translate(36.60,0)" d="M5.6,-14.4 Q3,-16.4 2.4,-12.6 L2.4,0" vector-effect="non-scaling-stroke"/><path transform="translate(36.60,0)" d="M.2,-9.6 L4.8,-9.8" vector-effect="non-scaling-stroke"/><path transform="translate(41.80,0)" d="M1.65,-10 L1.65,0" vector-effect="non-scaling-stroke"/><path transform="translate(41.80,0)" d="M1.65,-13.4 L1.65,-13.1" vector-effect="non-scaling-stroke"/><path transform="translate(45.10,0)" d="M1,-4.8 L6.1,-5.6 Q6,-10 3.5,-10 Q.8,-9.6 .8,-5 Q1,0 3.8,0 Q5.4,0 6.4,-1.8" vector-effect="non-scaling-stroke"/><path transform="translate(52.10,0)" d="M1.2,-10 L1.2,0" vector-effect="non-scaling-stroke"/><path transform="translate(52.10,0)" d="M1.2,-6.8 Q2.8,-10.4 5.2,-9.3" vector-effect="non-scaling-stroke"/><path transform="translate(57.50,0)" d="M5.1,-8.6 Q3.5,-10.6 2,-9.6 Q.5,-8 2,-6 L3.9,-4.2 Q5.6,-2.4 4.3,-.8 Q2.9,.7 .6,-1.1" vector-effect="non-scaling-stroke"/></g></g>
<g fill="none" stroke="#1b1b1b" stroke-width="2.0" stroke-linecap="round" stroke-linejoin="round"><g transform="translate(493.00,305.89) rotate(0.00) skewX(-0.0) scale(1.148,1.088)"><path transform="translate(0.00,0)" d="M2,-15.5 L2,-1.2 Q2.2,0 3.4,0 L7.4,0" vector-effect="non-scaling-stroke"/></g><g transform="translate(494.10,305.89) rotate(0.00) skewX(-0.0) scale(1.148,1.088)"><path transform="translate(0.00,0)" d="M2,-15.5 L2,-1.2 Q2.2,0 3.4,0 L7.4,0" vector-effect="non-scaling-stroke"/></g><g transform="translate(495.20,305.89) rotate(0.00) skewX(-0.0) scale(1.148,1.088)"><path transform="translate(0.00,0)" d="M2,-15.5 L2,-1.2 Q2.2,0 3.4,0 L7.4,0" vector-effect="non-scaling-stroke"/></g></g>
<g fill="none" stroke="#1b1b1b" stroke-width="1.95" stroke-linecap="round" stroke-linejoin="round"><g transform="translate(501.20,306.49) rotate(0.00) skewX(-0.0) scale(1.884,0.881)"><path transform="translate(0.00,0)" d="M1.65,-10.00 L1.65,0.00" vector-effect="non-scaling-stroke"/><path transform="translate(0.00,0)" d="M1.65,-16.80 L1.65,-16.20" vector-effect="non-scaling-stroke"/><path transform="translate(3.30,0)" d="M1.20,-10.00 L1.20,0.00" vector-effect="non-scaling-stroke"/><path transform="translate(3.30,0)" d="M1.20,-7.40 Q2.40,-11.20 3.80,-9.90 Q5.10,-9.20 5.10,-7.00 L5.10,0.00" vector-effect="non-scaling-stroke"/><path transform="translate(3.30,0)" d="M5.10,-7.40 Q6.40,-11.20 7.80,-9.90 Q9.20,-9.20 9.20,-7.00 L9.20,0.00" vector-effect="non-scaling-stroke"/><path transform="translate(14.10,0)" d="M1.65,-10.00 L1.65,0.00" vector-effect="non-scaling-stroke"/><path transform="translate(14.10,0)" d="M1.65,-16.80 L1.65,-16.20" vector-effect="non-scaling-stroke"/><path transform="translate(17.40,0)" d="M2.30,-16.80 L2.30,-2.00 Q2.50,0.10 4.70,-0.50" vector-effect="non-scaling-stroke"/><path transform="translate(17.40,0)" d="M0.20,-9.80 L4.70,-10.00" vector-effect="non-scaling-stroke"/><path transform="translate(22.40,0)" d="M1.00,-4.80 L6.10,-5.60 Q6.00,-10.00 3.50,-10.00 Q0.80,-9.60 0.80,-5.00 Q1.00,0.00 3.80,0.00 Q5.40,0.00 6.40,-1.80" vector-effect="non-scaling-stroke"/><path transform="translate(29.40,0)" d="M1.20,-10.00 L1.20,0.00" vector-effect="non-scaling-stroke"/><path transform="translate(29.40,0)" d="M1.20,-6.80 Q2.80,-10.80 5.20,-9.30" vector-effect="non-scaling-stroke"/><path transform="translate(34.80,0)" d="M5.10,-8.60 Q3.50,-11.20 2.00,-9.60 Q0.50,-8.00 2.00,-6.00 L3.90,-4.20 Q5.60,-2.40 4.30,-0.80 Q2.90,0.70 0.60,-1.10" vector-effect="non-scaling-stroke"/></g><g transform="translate(502.20,306.49) rotate(0.00) skewX(-0.0) scale(1.884,0.881)"><path transform="translate(0.00,0)" d="M1.65,-10.00 L1.65,0.00" vector-effect="non-scaling-stroke"/><path transform="translate(0.00,0)" d="M1.65,-16.80 L1.65,-16.20" vector-effect="non-scaling-stroke"/><path transform="translate(3.30,0)" d="M1.20,-10.00 L1.20,0.00" vector-effect="non-scaling-stroke"/><path transform="translate(3.30,0)" d="M1.20,-7.40 Q2.40,-11.20 3.80,-9.90 Q5.10,-9.20 5.10,-7.00 L5.10,0.00" vector-effect="non-scaling-stroke"/><path transform="translate(3.30,0)" d="M5.10,-7.40 Q6.40,-11.20 7.80,-9.90 Q9.20,-9.20 9.20,-7.00 L9.20,0.00" vector-effect="non-scaling-stroke"/><path transform="translate(14.10,0)" d="M1.65,-10.00 L1.65,0.00" vector-effect="non-scaling-stroke"/><path transform="translate(14.10,0)" d="M1.65,-16.80 L1.65,-16.20" vector-effect="non-scaling-stroke"/><path transform="translate(17.40,0)" d="M2.30,-16.80 L2.30,-2.00 Q2.50,0.10 4.70,-0.50" vector-effect="non-scaling-stroke"/><path transform="translate(17.40,0)" d="M0.20,-9.80 L4.70,-10.00" vector-effect="non-scaling-stroke"/><path transform="translate(22.40,0)" d="M1.00,-4.80 L6.10,-5.60 Q6.00,-10.00 3.50,-10.00 Q0.80,-9.60 0.80,-5.00 Q1.00,0.00 3.80,0.00 Q5.40,0.00 6.40,-1.80" vector-effect="non-scaling-stroke"/><path transform="translate(29.40,0)" d="M1.20,-10.00 L1.20,0.00" vector-effect="non-scaling-stroke"/><path transform="translate(29.40,0)" d="M1.20,-6.80 Q2.80,-10.80 5.20,-9.30" vector-effect="non-scaling-stroke"/><path transform="translate(34.80,0)" d="M5.10,-8.60 Q3.50,-11.20 2.00,-9.60 Q0.50,-8.00 2.00,-6.00 L3.90,-4.20 Q5.60,-2.40 4.30,-0.80 Q2.90,0.70 0.60,-1.10" vector-effect="non-scaling-stroke"/></g><g transform="translate(503.20,306.49) rotate(0.00) skewX(-0.0) scale(1.884,0.881)"><path transform="translate(0.00,0)" d="M1.65,-10.00 L1.65,0.00" vector-effect="non-scaling-stroke"/><path transform="translate(0.00,0)" d="M1.65,-16.80 L1.65,-16.20" vector-effect="non-scaling-stroke"/><path transform="translate(3.30,0)" d="M1.20,-10.00 L1.20,0.00" vector-effect="non-scaling-stroke"/><path transform="translate(3.30,0)" d="M1.20,-7.40 Q2.40,-11.20 3.80,-9.90 Q5.10,-9.20 5.10,-7.00 L5.10,0.00" vector-effect="non-scaling-stroke"/><path transform="translate(3.30,0)" d="M5.10,-7.40 Q6.40,-11.20 7.80,-9.90 Q9.20,-9.20 9.20,-7.00 L9.20,0.00" vector-effect="non-scaling-stroke"/><path transform="translate(14.10,0)" d="M1.65,-10.00 L1.65,0.00" vector-effect="non-scaling-stroke"/><path transform="translate(14.10,0)" d="M1.65,-16.80 L1.65,-16.20" vector-effect="non-scaling-stroke"/><path transform="translate(17.40,0)" d="M2.30,-16.80 L2.30,-2.00 Q2.50,0.10 4.70,-0.50" vector-effect="non-scaling-stroke"/><path transform="translate(17.40,0)" d="M0.20,-9.80 L4.70,-10.00" vector-effect="non-scaling-stroke"/><path transform="translate(22.40,0)" d="M1.00,-4.80 L6.10,-5.60 Q6.00,-10.00 3.50,-10.00 Q0.80,-9.60 0.80,-5.00 Q1.00,0.00 3.80,0.00 Q5.40,0.00 6.40,-1.80" vector-effect="non-scaling-stroke"/><path transform="translate(29.40,0)" d="M1.20,-10.00 L1.20,0.00" vector-effect="non-scaling-stroke"/><path transform="translate(29.40,0)" d="M1.20,-6.80 Q2.80,-10.80 5.20,-9.30" vector-effect="non-scaling-stroke"/><path transform="translate(34.80,0)" d="M5.10,-8.60 Q3.50,-11.20 2.00,-9.60 Q0.50,-8.00 2.00,-6.00 L3.90,-4.20 Q5.60,-2.40 4.30,-0.80 Q2.90,0.70 0.60,-1.10" vector-effect="non-scaling-stroke"/></g></g>
<g fill="none" stroke="#1b1b1b" stroke-width="1.7" stroke-linecap="round" stroke-linejoin="round"><g transform="translate(661.55,282.05) rotate(0.00) skewX(-0.0) scale(1.601,0.824)"><path transform="translate(0.00,0)" d="M3.4,-14.8 L3.4,0" vector-effect="non-scaling-stroke"/><path transform="translate(0.00,0)" d="M-2.6,-13.2 Q1,-16 5,-15.2 Q7.6,-14.8 9.6,-15.6 L9.4,-12.6" vector-effect="non-scaling-stroke"/><path transform="translate(0.00,0)" d="M3.4,-7.8 L7,-8.2" vector-effect="non-scaling-stroke"/></g><g transform="translate(662.40,282.05) rotate(0.00) skewX(-0.0) scale(1.601,0.824)"><path transform="translate(0.00,0)" d="M3.4,-14.8 L3.4,0" vector-effect="non-scaling-stroke"/><path transform="translate(0.00,0)" d="M-2.6,-13.2 Q1,-16 5,-15.2 Q7.6,-14.8 9.6,-15.6 L9.4,-12.6" vector-effect="non-scaling-stroke"/><path transform="translate(0.00,0)" d="M3.4,-7.8 L7,-8.2" vector-effect="non-scaling-stroke"/></g><g transform="translate(663.25,282.05) rotate(0.00) skewX(-0.0) scale(1.601,0.824)"><path transform="translate(0.00,0)" d="M3.4,-14.8 L3.4,0" vector-effect="non-scaling-stroke"/><path transform="translate(0.00,0)" d="M-2.6,-13.2 Q1,-16 5,-15.2 Q7.6,-14.8 9.6,-15.6 L9.4,-12.6" vector-effect="non-scaling-stroke"/><path transform="translate(0.00,0)" d="M3.4,-7.8 L7,-8.2" vector-effect="non-scaling-stroke"/></g></g>
<g fill="none" stroke="#1b1b1b" stroke-width="1.7" stroke-linecap="round" stroke-linejoin="round"><g transform="translate(677.58,282.17) rotate(0.00) skewX(-0.0) scale(1.618,0.673)"><path transform="translate(0.00,0)" d="M3.6,-10 Q.8,-10 .8,-5 Q.8,0 3.6,0 Q6.4,0 6.4,-5 Q6.4,-10 3.6,-10 Z" vector-effect="non-scaling-stroke"/><path transform="translate(7.20,0)" d="M5.1,-8.6 Q3.5,-10.6 2,-9.6 Q.5,-8 2,-6 L3.9,-4.2 Q5.6,-2.4 4.3,-.8 Q2.9,.7 .6,-1.1" vector-effect="non-scaling-stroke"/><path transform="translate(13.00,0)" d="M2.3,-13.4 L2.3,-2 Q2.5,.1 4.7,-.5" vector-effect="non-scaling-stroke"/><path transform="translate(13.00,0)" d="M.2,-9.8 L4.7,-10" vector-effect="non-scaling-stroke"/><path transform="translate(18.00,0)" d="M1,-4.8 L6.1,-5.6 Q6,-10 3.5,-10 Q.8,-9.6 .8,-5 Q1,0 3.8,0 Q5.4,0 6.4,-1.8" vector-effect="non-scaling-stroke"/><path transform="translate(25.00,0)" d="M1.2,-10 L1.2,0" vector-effect="non-scaling-stroke"/><path transform="translate(25.00,0)" d="M1.2,-6.8 Q2.8,-10.4 5.2,-9.3" vector-effect="non-scaling-stroke"/></g><g transform="translate(678.40,282.17) rotate(0.00) skewX(-0.0) scale(1.618,0.673)"><path transform="translate(0.00,0)" d="M3.6,-10 Q.8,-10 .8,-5 Q.8,0 3.6,0 Q6.4,0 6.4,-5 Q6.4,-10 3.6,-10 Z" vector-effect="non-scaling-stroke"/><path transform="translate(7.20,0)" d="M5.1,-8.6 Q3.5,-10.6 2,-9.6 Q.5,-8 2,-6 L3.9,-4.2 Q5.6,-2.4 4.3,-.8 Q2.9,.7 .6,-1.1" vector-effect="non-scaling-stroke"/><path transform="translate(13.00,0)" d="M2.3,-13.4 L2.3,-2 Q2.5,.1 4.7,-.5" vector-effect="non-scaling-stroke"/><path transform="translate(13.00,0)" d="M.2,-9.8 L4.7,-10" vector-effect="non-scaling-stroke"/><path transform="translate(18.00,0)" d="M1,-4.8 L6.1,-5.6 Q6,-10 3.5,-10 Q.8,-9.6 .8,-5 Q1,0 3.8,0 Q5.4,0 6.4,-1.8" vector-effect="non-scaling-stroke"/><path transform="translate(25.00,0)" d="M1.2,-10 L1.2,0" vector-effect="non-scaling-stroke"/><path transform="translate(25.00,0)" d="M1.2,-6.8 Q2.8,-10.4 5.2,-9.3" vector-effect="non-scaling-stroke"/></g><g transform="translate(679.22,282.17) rotate(0.00) skewX(-0.0) scale(1.618,0.673)"><path transform="translate(0.00,0)" d="M3.6,-10 Q.8,-10 .8,-5 Q.8,0 3.6,0 Q6.4,0 6.4,-5 Q6.4,-10 3.6,-10 Z" vector-effect="non-scaling-stroke"/><path transform="translate(7.20,0)" d="M5.1,-8.6 Q3.5,-10.6 2,-9.6 Q.5,-8 2,-6 L3.9,-4.2 Q5.6,-2.4 4.3,-.8 Q2.9,.7 .6,-1.1" vector-effect="non-scaling-stroke"/><path transform="translate(13.00,0)" d="M2.3,-13.4 L2.3,-2 Q2.5,.1 4.7,-.5" vector-effect="non-scaling-stroke"/><path transform="translate(13.00,0)" d="M.2,-9.8 L4.7,-10" vector-effect="non-scaling-stroke"/><path transform="translate(18.00,0)" d="M1,-4.8 L6.1,-5.6 Q6,-10 3.5,-10 Q.8,-9.6 .8,-5 Q1,0 3.8,0 Q5.4,0 6.4,-1.8" vector-effect="non-scaling-stroke"/><path transform="translate(25.00,0)" d="M1.2,-10 L1.2,0" vector-effect="non-scaling-stroke"/><path transform="translate(25.00,0)" d="M1.2,-6.8 Q2.8,-10.4 5.2,-9.3" vector-effect="non-scaling-stroke"/></g></g>
<g fill="none" stroke="#1b1b1b" stroke-width="1.8" stroke-linecap="round" stroke-linejoin="round"><g transform="translate(664.90,307.54) rotate(0.00) skewX(-0.0) scale(1.489,1.008)"><path transform="translate(0.00,0)" d="M8.4,-13.2 Q6.4,-16.4 3.5,-15.2 Q1,-13.8 2.3,-10.4 Q3.5,-8.6 5.8,-7.2 Q8.8,-5 7.3,-1.8 Q5.4,1 .2,-1.6" vector-effect="non-scaling-stroke"/></g><g transform="translate(665.80,307.54) rotate(0.00) skewX(-0.0) scale(1.489,1.008)"><path transform="translate(0.00,0)" d="M8.4,-13.2 Q6.4,-16.4 3.5,-15.2 Q1,-13.8 2.3,-10.4 Q3.5,-8.6 5.8,-7.2 Q8.8,-5 7.3,-1.8 Q5.4,1 .2,-1.6" vector-effect="non-scaling-stroke"/></g><g transform="translate(666.70,307.54) rotate(0.00) skewX(-0.0) scale(1.489,1.008)"><path transform="translate(0.00,0)" d="M8.4,-13.2 Q6.4,-16.4 3.5,-15.2 Q1,-13.8 2.3,-10.4 Q3.5,-8.6 5.8,-7.2 Q8.8,-5 7.3,-1.8 Q5.4,1 .2,-1.6" vector-effect="non-scaling-stroke"/></g></g>
<g fill="none" stroke="#1b1b1b" stroke-width="1.8" stroke-linecap="round" stroke-linejoin="round"><g transform="translate(680.30,308.70) rotate(0.00) skewX(-0.0) scale(1.569,0.831)"><path transform="translate(0.00,0)" d="M1.00,-4.80 L6.10,-5.60 Q6.00,-10.00 3.50,-10.00 Q0.80,-9.60 0.80,-5.00 Q1.00,0.00 3.80,0.00 Q5.40,0.00 6.40,-1.80" vector-effect="non-scaling-stroke"/><path transform="translate(7.00,0)" d="M1.00,-4.80 L6.10,-5.60 Q6.00,-10.00 3.50,-10.00 Q0.80,-9.60 0.80,-5.00 Q1.00,0.00 3.80,0.00 Q5.40,0.00 6.40,-1.80" vector-effect="non-scaling-stroke"/><path transform="translate(14.00,0)" d="M1.65,-19.35 L1.65,0.00" vector-effect="non-scaling-stroke"/><path transform="translate(17.30,0)" d="M1.00,-4.80 L6.10,-5.60 Q6.00,-10.00 3.50,-10.00 Q0.80,-9.60 0.80,-5.00 Q1.00,0.00 3.80,0.00 Q5.40,0.00 6.40,-1.80" vector-effect="non-scaling-stroke"/><path transform="translate(24.30,0)" d="M1.00,-10.00 L1.00,-3.60 Q1.20,-0.50 3.20,-0.50 Q4.90,-0.70 5.90,-3.00" vector-effect="non-scaling-stroke"/><path transform="translate(24.30,0)" d="M5.90,-10.00 L5.90,4.56 Q5.70,8.74 3.40,8.74 Q2.00,8.55 0.90,6.84" vector-effect="non-scaling-stroke"/></g><g transform="translate(681.20,308.70) rotate(0.00) skewX(-0.0) scale(1.569,0.831)"><path transform="translate(0.00,0)" d="M1.00,-4.80 L6.10,-5.60 Q6.00,-10.00 3.50,-10.00 Q0.80,-9.60 0.80,-5.00 Q1.00,0.00 3.80,0.00 Q5.40,0.00 6.40,-1.80" vector-effect="non-scaling-stroke"/><path transform="translate(7.00,0)" d="M1.00,-4.80 L6.10,-5.60 Q6.00,-10.00 3.50,-10.00 Q0.80,-9.60 0.80,-5.00 Q1.00,0.00 3.80,0.00 Q5.40,0.00 6.40,-1.80" vector-effect="non-scaling-stroke"/><path transform="translate(14.00,0)" d="M1.65,-19.35 L1.65,0.00" vector-effect="non-scaling-stroke"/><path transform="translate(17.30,0)" d="M1.00,-4.80 L6.10,-5.60 Q6.00,-10.00 3.50,-10.00 Q0.80,-9.60 0.80,-5.00 Q1.00,0.00 3.80,0.00 Q5.40,0.00 6.40,-1.80" vector-effect="non-scaling-stroke"/><path transform="translate(24.30,0)" d="M1.00,-10.00 L1.00,-3.60 Q1.20,-0.50 3.20,-0.50 Q4.90,-0.70 5.90,-3.00" vector-effect="non-scaling-stroke"/><path transform="translate(24.30,0)" d="M5.90,-10.00 L5.90,4.56 Q5.70,8.74 3.40,8.74 Q2.00,8.55 0.90,6.84" vector-effect="non-scaling-stroke"/></g><g transform="translate(682.10,308.70) rotate(0.00) skewX(-0.0) scale(1.569,0.831)"><path transform="translate(0.00,0)" d="M1.00,-4.80 L6.10,-5.60 Q6.00,-10.00 3.50,-10.00 Q0.80,-9.60 0.80,-5.00 Q1.00,0.00 3.80,0.00 Q5.40,0.00 6.40,-1.80" vector-effect="non-scaling-stroke"/><path transform="translate(7.00,0)" d="M1.00,-4.80 L6.10,-5.60 Q6.00,-10.00 3.50,-10.00 Q0.80,-9.60 0.80,-5.00 Q1.00,0.00 3.80,0.00 Q5.40,0.00 6.40,-1.80" vector-effect="non-scaling-stroke"/><path transform="translate(14.00,0)" d="M1.65,-19.35 L1.65,0.00" vector-effect="non-scaling-stroke"/><path transform="translate(17.30,0)" d="M1.00,-4.80 L6.10,-5.60 Q6.00,-10.00 3.50,-10.00 Q0.80,-9.60 0.80,-5.00 Q1.00,0.00 3.80,0.00 Q5.40,0.00 6.40,-1.80" vector-effect="non-scaling-stroke"/><path transform="translate(24.30,0)" d="M1.00,-10.00 L1.00,-3.60 Q1.20,-0.50 3.20,-0.50 Q4.90,-0.70 5.90,-3.00" vector-effect="non-scaling-stroke"/><path transform="translate(24.30,0)" d="M5.90,-10.00 L5.90,4.56 Q5.70,8.74 3.40,8.74 Q2.00,8.55 0.90,6.84" vector-effect="non-scaling-stroke"/></g></g>
<g fill="none" stroke="#1b1b1b" stroke-width="1.8" stroke-linecap="round" stroke-linejoin="round"><g transform="translate(654.60,336.66) rotate(0.00) skewX(-0.0) scale(1.411,0.963)"><path transform="translate(0.00,0)" d="M2.8,-14.6 L2.8,0" vector-effect="non-scaling-stroke"/><path transform="translate(0.00,0)" d="M-2,-12.6 Q-.6,-15.8 3.4,-15.4 Q8.6,-15 9.4,-8.6 Q9.8,-1.6 2.8,0 L1.2,-.2" vector-effect="non-scaling-stroke"/><path transform="translate(10.80,0)" d="M1.65,-10 L1.65,0" vector-effect="non-scaling-stroke"/><path transform="translate(10.80,0)" d="M1.65,-13.4 L1.65,-13.1" vector-effect="non-scaling-stroke"/><path transform="translate(14.10,0)" d="M5.1,-8.6 Q3.5,-10.6 2,-9.6 Q.5,-8 2,-6 L3.9,-4.2 Q5.6,-2.4 4.3,-.8 Q2.9,.7 .6,-1.1" vector-effect="non-scaling-stroke"/><path transform="translate(19.90,0)" d="M5.9,-8.2 Q4.2,-10.6 2.3,-9.3 Q.7,-7.6 .8,-4.4 Q1,0 3.5,0 Q5.2,0 6.1,-1.8" vector-effect="non-scaling-stroke"/><path transform="translate(26.30,0)" d="M1.2,-10 L1.2,0" vector-effect="non-scaling-stroke"/><path transform="translate(26.30,0)" d="M1.2,-6.8 Q2.8,-10.4 5.2,-9.3" vector-effect="non-scaling-stroke"/><path transform="translate(31.70,0)" d="M1.65,-10 L1.65,0" vector-effect="non-scaling-stroke"/><path transform="translate(31.70,0)" d="M1.65,-13.4 L1.65,-13.1" vector-effect="non-scaling-stroke"/><path transform="translate(35.00,0)" d="M1.2,-10 L1.2,0" vector-effect="non-scaling-stroke"/><path transform="translate(35.00,0)" d="M1.2,-7.4 Q2.4,-10.6 3.8,-9.9 Q5.1,-9.2 5.1,-7 L5.1,0" vector-effect="non-scaling-stroke"/><path transform="translate(35.00,0)" d="M5.1,-7.4 Q6.4,-10.6 7.8,-9.9 Q9.2,-9.2 9.2,-7 L9.2,0" vector-effect="non-scaling-stroke"/><path transform="translate(45.80,0)" d="M1.65,-10 L1.65,0" vector-effect="non-scaling-stroke"/><path transform="translate(45.80,0)" d="M1.65,-13.4 L1.65,-13.1" vector-effect="non-scaling-stroke"/><path transform="translate(49.10,0)" d="M1.2,-10 L1.2,0" vector-effect="non-scaling-stroke"/><path transform="translate(49.10,0)" d="M1.2,-7.4 Q2.8,-10.6 4.3,-9.9 Q5.8,-9.2 5.8,-7 L5.8,0" vector-effect="non-scaling-stroke"/><path transform="translate(56.30,0)" d="M6.7,-10 L6.7,0" vector-effect="non-scaling-stroke"/><path transform="translate(56.30,0)" d="M6.7,-7 Q5,-10.6 2.6,-9.6 Q.7,-8 .8,-4.4 Q1,0 3.4,0 Q5.6,-.4 6.7,-3.2" vector-effect="non-scaling-stroke"/><path transform="translate(64.30,0)" d="M2.3,-13.4 L2.3,-2 Q2.5,.1 4.7,-.5" vector-effect="non-scaling-stroke"/><path transform="translate(64.30,0)" d="M.2,-9.8 L4.7,-10" vector-effect="non-scaling-stroke"/><path transform="translate(69.30,0)" d="M3.6,-10 Q.8,-10 .8,-5 Q.8,0 3.6,0 Q6.4,0 6.4,-5 Q6.4,-10 3.6,-10 Z" vector-effect="non-scaling-stroke"/><path transform="translate(76.50,0)" d="M1.2,-10 L1.2,0" vector-effect="non-scaling-stroke"/><path transform="translate(76.50,0)" d="M1.2,-6.8 Q2.8,-10.4 5.2,-9.3" vector-effect="non-scaling-stroke"/></g><g transform="translate(655.50,336.66) rotate(0.00) skewX(-0.0) scale(1.411,0.963)"><path transform="translate(0.00,0)" d="M2.8,-14.6 L2.8,0" vector-effect="non-scaling-stroke"/><path transform="translate(0.00,0)" d="M-2,-12.6 Q-.6,-15.8 3.4,-15.4 Q8.6,-15 9.4,-8.6 Q9.8,-1.6 2.8,0 L1.2,-.2" vector-effect="non-scaling-stroke"/><path transform="translate(10.80,0)" d="M1.65,-10 L1.65,0" vector-effect="non-scaling-stroke"/><path transform="translate(10.80,0)" d="M1.65,-13.4 L1.65,-13.1" vector-effect="non-scaling-stroke"/><path transform="translate(14.10,0)" d="M5.1,-8.6 Q3.5,-10.6 2,-9.6 Q.5,-8 2,-6 L3.9,-4.2 Q5.6,-2.4 4.3,-.8 Q2.9,.7 .6,-1.1" vector-effect="non-scaling-stroke"/><path transform="translate(19.90,0)" d="M5.9,-8.2 Q4.2,-10.6 2.3,-9.3 Q.7,-7.6 .8,-4.4 Q1,0 3.5,0 Q5.2,0 6.1,-1.8" vector-effect="non-scaling-stroke"/><path transform="translate(26.30,0)" d="M1.2,-10 L1.2,0" vector-effect="non-scaling-stroke"/><path transform="translate(26.30,0)" d="M1.2,-6.8 Q2.8,-10.4 5.2,-9.3" vector-effect="non-scaling-stroke"/><path transform="translate(31.70,0)" d="M1.65,-10 L1.65,0" vector-effect="non-scaling-stroke"/><path transform="translate(31.70,0)" d="M1.65,-13.4 L1.65,-13.1" vector-effect="non-scaling-stroke"/><path transform="translate(35.00,0)" d="M1.2,-10 L1.2,0" vector-effect="non-scaling-stroke"/><path transform="translate(35.00,0)" d="M1.2,-7.4 Q2.4,-10.6 3.8,-9.9 Q5.1,-9.2 5.1,-7 L5.1,0" vector-effect="non-scaling-stroke"/><path transform="translate(35.00,0)" d="M5.1,-7.4 Q6.4,-10.6 7.8,-9.9 Q9.2,-9.2 9.2,-7 L9.2,0" vector-effect="non-scaling-stroke"/><path transform="translate(45.80,0)" d="M1.65,-10 L1.65,0" vector-effect="non-scaling-stroke"/><path transform="translate(45.80,0)" d="M1.65,-13.4 L1.65,-13.1" vector-effect="non-scaling-stroke"/><path transform="translate(49.10,0)" d="M1.2,-10 L1.2,0" vector-effect="non-scaling-stroke"/><path transform="translate(49.10,0)" d="M1.2,-7.4 Q2.8,-10.6 4.3,-9.9 Q5.8,-9.2 5.8,-7 L5.8,0" vector-effect="non-scaling-stroke"/><path transform="translate(56.30,0)" d="M6.7,-10 L6.7,0" vector-effect="non-scaling-stroke"/><path transform="translate(56.30,0)" d="M6.7,-7 Q5,-10.6 2.6,-9.6 Q.7,-8 .8,-4.4 Q1,0 3.4,0 Q5.6,-.4 6.7,-3.2" vector-effect="non-scaling-stroke"/><path transform="translate(64.30,0)" d="M2.3,-13.4 L2.3,-2 Q2.5,.1 4.7,-.5" vector-effect="non-scaling-stroke"/><path transform="translate(64.30,0)" d="M.2,-9.8 L4.7,-10" vector-effect="non-scaling-stroke"/><path transform="translate(69.30,0)" d="M3.6,-10 Q.8,-10 .8,-5 Q.8,0 3.6,0 Q6.4,0 6.4,-5 Q6.4,-10 3.6,-10 Z" vector-effect="non-scaling-stroke"/><path transform="translate(76.50,0)" d="M1.2,-10 L1.2,0" vector-effect="non-scaling-stroke"/><path transform="translate(76.50,0)" d="M1.2,-6.8 Q2.8,-10.4 5.2,-9.3" vector-effect="non-scaling-stroke"/></g><g transform="translate(656.40,336.66) rotate(0.00) skewX(-0.0) scale(1.411,0.963)"><path transform="translate(0.00,0)" d="M2.8,-14.6 L2.8,0" vector-effect="non-scaling-stroke"/><path transform="translate(0.00,0)" d="M-2,-12.6 Q-.6,-15.8 3.4,-15.4 Q8.6,-15 9.4,-8.6 Q9.8,-1.6 2.8,0 L1.2,-.2" vector-effect="non-scaling-stroke"/><path transform="translate(10.80,0)" d="M1.65,-10 L1.65,0" vector-effect="non-scaling-stroke"/><path transform="translate(10.80,0)" d="M1.65,-13.4 L1.65,-13.1" vector-effect="non-scaling-stroke"/><path transform="translate(14.10,0)" d="M5.1,-8.6 Q3.5,-10.6 2,-9.6 Q.5,-8 2,-6 L3.9,-4.2 Q5.6,-2.4 4.3,-.8 Q2.9,.7 .6,-1.1" vector-effect="non-scaling-stroke"/><path transform="translate(19.90,0)" d="M5.9,-8.2 Q4.2,-10.6 2.3,-9.3 Q.7,-7.6 .8,-4.4 Q1,0 3.5,0 Q5.2,0 6.1,-1.8" vector-effect="non-scaling-stroke"/><path transform="translate(26.30,0)" d="M1.2,-10 L1.2,0" vector-effect="non-scaling-stroke"/><path transform="translate(26.30,0)" d="M1.2,-6.8 Q2.8,-10.4 5.2,-9.3" vector-effect="non-scaling-stroke"/><path transform="translate(31.70,0)" d="M1.65,-10 L1.65,0" vector-effect="non-scaling-stroke"/><path transform="translate(31.70,0)" d="M1.65,-13.4 L1.65,-13.1" vector-effect="non-scaling-stroke"/><path transform="translate(35.00,0)" d="M1.2,-10 L1.2,0" vector-effect="non-scaling-stroke"/><path transform="translate(35.00,0)" d="M1.2,-7.4 Q2.4,-10.6 3.8,-9.9 Q5.1,-9.2 5.1,-7 L5.1,0" vector-effect="non-scaling-stroke"/><path transform="translate(35.00,0)" d="M5.1,-7.4 Q6.4,-10.6 7.8,-9.9 Q9.2,-9.2 9.2,-7 L9.2,0" vector-effect="non-scaling-stroke"/><path transform="translate(45.80,0)" d="M1.65,-10 L1.65,0" vector-effect="non-scaling-stroke"/><path transform="translate(45.80,0)" d="M1.65,-13.4 L1.65,-13.1" vector-effect="non-scaling-stroke"/><path transform="translate(49.10,0)" d="M1.2,-10 L1.2,0" vector-effect="non-scaling-stroke"/><path transform="translate(49.10,0)" d="M1.2,-7.4 Q2.8,-10.6 4.3,-9.9 Q5.8,-9.2 5.8,-7 L5.8,0" vector-effect="non-scaling-stroke"/><path transform="translate(56.30,0)" d="M6.7,-10 L6.7,0" vector-effect="non-scaling-stroke"/><path transform="translate(56.30,0)" d="M6.7,-7 Q5,-10.6 2.6,-9.6 Q.7,-8 .8,-4.4 Q1,0 3.4,0 Q5.6,-.4 6.7,-3.2" vector-effect="non-scaling-stroke"/><path transform="translate(64.30,0)" d="M2.3,-13.4 L2.3,-2 Q2.5,.1 4.7,-.5" vector-effect="non-scaling-stroke"/><path transform="translate(64.30,0)" d="M.2,-9.8 L4.7,-10" vector-effect="non-scaling-stroke"/><path transform="translate(69.30,0)" d="M3.6,-10 Q.8,-10 .8,-5 Q.8,0 3.6,0 Q6.4,0 6.4,-5 Q6.4,-10 3.6,-10 Z" vector-effect="non-scaling-stroke"/><path transform="translate(76.50,0)" d="M1.2,-10 L1.2,0" vector-effect="non-scaling-stroke"/><path transform="translate(76.50,0)" d="M1.2,-6.8 Q2.8,-10.4 5.2,-9.3" vector-effect="non-scaling-stroke"/></g></g>
<g fill="none" stroke="#1b1b1b" stroke-width="2.0" stroke-linecap="round" stroke-linejoin="round"><g transform="translate(819.70,292.63) rotate(0.00) skewX(-6.0) scale(1.454,1.328)"><path transform="translate(0.00,0)" d="M1.3,0 L1.3,-10 Q1.6,-15.5 4.9,-15.5 Q8.3,-15.5 8.6,-10 L8.6,0" vector-effect="non-scaling-stroke"/><path transform="translate(0.00,0)" d="M1.3,-6.4 L8.6,-6.4" vector-effect="non-scaling-stroke"/></g><g transform="translate(820.80,292.63) rotate(0.00) skewX(-6.0) scale(1.454,1.328)"><path transform="translate(0.00,0)" d="M1.3,0 L1.3,-10 Q1.6,-15.5 4.9,-15.5 Q8.3,-15.5 8.6,-10 L8.6,0" vector-effect="non-scaling-stroke"/><path transform="translate(0.00,0)" d="M1.3,-6.4 L8.6,-6.4" vector-effect="non-scaling-stroke"/></g><g transform="translate(821.90,292.63) rotate(0.00) skewX(-6.0) scale(1.454,1.328)"><path transform="translate(0.00,0)" d="M1.3,0 L1.3,-10 Q1.6,-15.5 4.9,-15.5 Q8.3,-15.5 8.6,-10 L8.6,0" vector-effect="non-scaling-stroke"/><path transform="translate(0.00,0)" d="M1.3,-6.4 L8.6,-6.4" vector-effect="non-scaling-stroke"/></g></g>
<g fill="none" stroke="#1b1b1b" stroke-width="1.9" stroke-linecap="round" stroke-linejoin="round"><g transform="translate(836.40,291.56) rotate(-2.00) skewX(-5.0) scale(1.782,1.092)"><path transform="translate(0.00,0)" d="M1.2,-10 L1.2,-3 Q1.2,0 3.4,0 Q5.1,-.3 6.1,-2.8" vector-effect="non-scaling-stroke"/><path transform="translate(0.00,0)" d="M6.1,-10 L6.1,0" vector-effect="non-scaling-stroke"/><path transform="translate(7.40,0)" d="M6.7,-15.5 L6.7,0" vector-effect="non-scaling-stroke"/><path transform="translate(7.40,0)" d="M6.7,-7 Q5,-10.6 2.6,-9.6 Q.7,-8 .8,-4.4 Q1,0 3.4,0 Q5.6,-.4 6.7,-3.2" vector-effect="non-scaling-stroke"/><path transform="translate(15.40,0)" d="M1,-10 L1,-3 Q1.2,0 2.8,0 Q4.4,-.2 4.6,-3.4 L4.6,-7 M4.6,-3.4 Q4.9,0 6.5,0 Q8.4,-.4 8.6,-5 Q8.6,-8.6 7.4,-10" vector-effect="non-scaling-stroke"/></g><g transform="translate(837.40,291.56) rotate(-2.00) skewX(-5.0) scale(1.782,1.092)"><path transform="translate(0.00,0)" d="M1.2,-10 L1.2,-3 Q1.2,0 3.4,0 Q5.1,-.3 6.1,-2.8" vector-effect="non-scaling-stroke"/><path transform="translate(0.00,0)" d="M6.1,-10 L6.1,0" vector-effect="non-scaling-stroke"/><path transform="translate(7.40,0)" d="M6.7,-15.5 L6.7,0" vector-effect="non-scaling-stroke"/><path transform="translate(7.40,0)" d="M6.7,-7 Q5,-10.6 2.6,-9.6 Q.7,-8 .8,-4.4 Q1,0 3.4,0 Q5.6,-.4 6.7,-3.2" vector-effect="non-scaling-stroke"/><path transform="translate(15.40,0)" d="M1,-10 L1,-3 Q1.2,0 2.8,0 Q4.4,-.2 4.6,-3.4 L4.6,-7 M4.6,-3.4 Q4.9,0 6.5,0 Q8.4,-.4 8.6,-5 Q8.6,-8.6 7.4,-10" vector-effect="non-scaling-stroke"/></g><g transform="translate(838.40,291.56) rotate(-2.00) skewX(-5.0) scale(1.782,1.092)"><path transform="translate(0.00,0)" d="M1.2,-10 L1.2,-3 Q1.2,0 3.4,0 Q5.1,-.3 6.1,-2.8" vector-effect="non-scaling-stroke"/><path transform="translate(0.00,0)" d="M6.1,-10 L6.1,0" vector-effect="non-scaling-stroke"/><path transform="translate(7.40,0)" d="M6.7,-15.5 L6.7,0" vector-effect="non-scaling-stroke"/><path transform="translate(7.40,0)" d="M6.7,-7 Q5,-10.6 2.6,-9.6 Q.7,-8 .8,-4.4 Q1,0 3.4,0 Q5.6,-.4 6.7,-3.2" vector-effect="non-scaling-stroke"/><path transform="translate(15.40,0)" d="M1,-10 L1,-3 Q1.2,0 2.8,0 Q4.4,-.2 4.6,-3.4 L4.6,-7 M4.6,-3.4 Q4.9,0 6.5,0 Q8.4,-.4 8.6,-5 Q8.6,-8.6 7.4,-10" vector-effect="non-scaling-stroke"/></g></g>
<g fill="none" stroke="#1b1b1b" stroke-width="1.7" stroke-linecap="round" stroke-linejoin="round"><g transform="translate(817.65,316.08) rotate(0.00) skewX(-0.0) scale(1.285,0.777)"><path transform="translate(0.00,0)" d="M5.2,-15.5 Q.9,-15.5 .9,-7.8 Q.9,0 5.2,0 Q9.6,0 9.6,-7.8 Q9.6,-15.5 5.2,-15.5 Z" vector-effect="non-scaling-stroke"/></g><g transform="translate(818.50,316.08) rotate(0.00) skewX(-0.0) scale(1.285,0.777)"><path transform="translate(0.00,0)" d="M5.2,-15.5 Q.9,-15.5 .9,-7.8 Q.9,0 5.2,0 Q9.6,0 9.6,-7.8 Q9.6,-15.5 5.2,-15.5 Z" vector-effect="non-scaling-stroke"/></g><g transform="translate(819.35,316.08) rotate(0.00) skewX(-0.0) scale(1.285,0.777)"><path transform="translate(0.00,0)" d="M5.2,-15.5 Q.9,-15.5 .9,-7.8 Q.9,0 5.2,0 Q9.6,0 9.6,-7.8 Q9.6,-15.5 5.2,-15.5 Z" vector-effect="non-scaling-stroke"/></g></g>
<g fill="none" stroke="#1b1b1b" stroke-width="1.75" stroke-linecap="round" stroke-linejoin="round"><g transform="translate(832.95,316.30) rotate(-2.00) skewX(-0.0) scale(1.610,0.801)"><path transform="translate(0.00,0)" d="M1.20,-10.00 L1.20,-3.00 Q1.20,0.00 3.40,0.00 Q5.10,-0.30 6.10,-2.80" vector-effect="non-scaling-stroke"/><path transform="translate(0.00,0)" d="M6.10,-10.00 L6.10,0.00" vector-effect="non-scaling-stroke"/><path transform="translate(7.40,0)" d="M2.30,-16.46 L2.30,-2.00 Q2.50,0.10 4.70,-0.50" vector-effect="non-scaling-stroke"/><path transform="translate(7.40,0)" d="M0.20,-9.80 L4.70,-10.00" vector-effect="non-scaling-stroke"/><path transform="translate(12.40,0)" d="M1.20,-10.00 L1.20,3.80" vector-effect="non-scaling-stroke"/><path transform="translate(12.40,0)" d="M1.20,-7.00 Q3.00,-11.14 4.90,-9.80 Q6.80,-8.80 6.80,-5.00 Q6.80,-0.60 4.30,0.00 Q2.60,0.30 1.20,-2.00" vector-effect="non-scaling-stroke"/><path transform="translate(20.20,0)" d="M1.20,-10.00 L1.20,-3.00 Q1.20,0.00 3.40,0.00 Q5.10,-0.30 6.10,-2.80" vector-effect="non-scaling-stroke"/><path transform="translate(20.20,0)" d="M6.10,-10.00 L6.10,0.00" vector-effect="non-scaling-stroke"/><path transform="translate(27.60,0)" d="M2.30,-16.46 L2.30,-2.00 Q2.50,0.10 4.70,-0.50" vector-effect="non-scaling-stroke"/><path transform="translate(27.60,0)" d="M0.20,-9.80 L4.70,-10.00" vector-effect="non-scaling-stroke"/></g><g transform="translate(833.80,316.30) rotate(-2.00) skewX(-0.0) scale(1.610,0.801)"><path transform="translate(0.00,0)" d="M1.20,-10.00 L1.20,-3.00 Q1.20,0.00 3.40,0.00 Q5.10,-0.30 6.10,-2.80" vector-effect="non-scaling-stroke"/><path transform="translate(0.00,0)" d="M6.10,-10.00 L6.10,0.00" vector-effect="non-scaling-stroke"/><path transform="translate(7.40,0)" d="M2.30,-16.46 L2.30,-2.00 Q2.50,0.10 4.70,-0.50" vector-effect="non-scaling-stroke"/><path transform="translate(7.40,0)" d="M0.20,-9.80 L4.70,-10.00" vector-effect="non-scaling-stroke"/><path transform="translate(12.40,0)" d="M1.20,-10.00 L1.20,3.80" vector-effect="non-scaling-stroke"/><path transform="translate(12.40,0)" d="M1.20,-7.00 Q3.00,-11.14 4.90,-9.80 Q6.80,-8.80 6.80,-5.00 Q6.80,-0.60 4.30,0.00 Q2.60,0.30 1.20,-2.00" vector-effect="non-scaling-stroke"/><path transform="translate(20.20,0)" d="M1.20,-10.00 L1.20,-3.00 Q1.20,0.00 3.40,0.00 Q5.10,-0.30 6.10,-2.80" vector-effect="non-scaling-stroke"/><path transform="translate(20.20,0)" d="M6.10,-10.00 L6.10,0.00" vector-effect="non-scaling-stroke"/><path transform="translate(27.60,0)" d="M2.30,-16.46 L2.30,-2.00 Q2.50,0.10 4.70,-0.50" vector-effect="non-scaling-stroke"/><path transform="translate(27.60,0)" d="M0.20,-9.80 L4.70,-10.00" vector-effect="non-scaling-stroke"/></g><g transform="translate(834.65,316.30) rotate(-2.00) skewX(-0.0) scale(1.610,0.801)"><path transform="translate(0.00,0)" d="M1.20,-10.00 L1.20,-3.00 Q1.20,0.00 3.40,0.00 Q5.10,-0.30 6.10,-2.80" vector-effect="non-scaling-stroke"/><path transform="translate(0.00,0)" d="M6.10,-10.00 L6.10,0.00" vector-effect="non-scaling-stroke"/><path transform="translate(7.40,0)" d="M2.30,-16.46 L2.30,-2.00 Q2.50,0.10 4.70,-0.50" vector-effect="non-scaling-stroke"/><path transform="translate(7.40,0)" d="M0.20,-9.80 L4.70,-10.00" vector-effect="non-scaling-stroke"/><path transform="translate(12.40,0)" d="M1.20,-10.00 L1.20,3.80" vector-effect="non-scaling-stroke"/><path transform="translate(12.40,0)" d="M1.20,-7.00 Q3.00,-11.14 4.90,-9.80 Q6.80,-8.80 6.80,-5.00 Q6.80,-0.60 4.30,0.00 Q2.60,0.30 1.20,-2.00" vector-effect="non-scaling-stroke"/><path transform="translate(20.20,0)" d="M1.20,-10.00 L1.20,-3.00 Q1.20,0.00 3.40,0.00 Q5.10,-0.30 6.10,-2.80" vector-effect="non-scaling-stroke"/><path transform="translate(20.20,0)" d="M6.10,-10.00 L6.10,0.00" vector-effect="non-scaling-stroke"/><path transform="translate(27.60,0)" d="M2.30,-16.46 L2.30,-2.00 Q2.50,0.10 4.70,-0.50" vector-effect="non-scaling-stroke"/><path transform="translate(27.60,0)" d="M0.20,-9.80 L4.70,-10.00" vector-effect="non-scaling-stroke"/></g></g>
<g fill="none" stroke="#1b1b1b" stroke-width="1.85" stroke-linecap="round" stroke-linejoin="round"><g transform="translate(825.75,339.73) rotate(-3.00) skewX(-0.0) scale(1.520,1.011)"><path transform="translate(0.00,0)" d="M1.3,0 L1.3,-10 Q1.6,-15.5 4.9,-15.5 Q8.3,-15.5 8.6,-10 L8.6,0" vector-effect="non-scaling-stroke"/><path transform="translate(0.00,0)" d="M1.3,-6.4 L8.6,-6.4" vector-effect="non-scaling-stroke"/><path transform="translate(10.00,0)" d="M1.2,-10 L1.2,0" vector-effect="non-scaling-stroke"/><path transform="translate(10.00,0)" d="M1.2,-7.4 Q2.4,-10.6 3.8,-9.9 Q5.1,-9.2 5.1,-7 L5.1,0" vector-effect="non-scaling-stroke"/><path transform="translate(10.00,0)" d="M5.1,-7.4 Q6.4,-10.6 7.8,-9.9 Q9.2,-9.2 9.2,-7 L9.2,0" vector-effect="non-scaling-stroke"/><path transform="translate(20.80,0)" d="M1.2,-10 L1.2,3.8" vector-effect="non-scaling-stroke"/><path transform="translate(20.80,0)" d="M1.2,-7 Q3,-10.6 4.9,-9.8 Q6.8,-8.8 6.8,-5 Q6.8,-.6 4.3,0 Q2.6,.3 1.2,-2" vector-effect="non-scaling-stroke"/><path transform="translate(28.60,0)" d="M1.65,-15.5 L1.65,0" vector-effect="non-scaling-stroke"/><path transform="translate(31.90,0)" d="M1.65,-10 L1.65,0" vector-effect="non-scaling-stroke"/><path transform="translate(31.90,0)" d="M1.65,-13.4 L1.65,-13.1" vector-effect="non-scaling-stroke"/><path transform="translate(35.20,0)" d="M5.6,-14.4 Q3,-16.4 2.4,-12.6 L2.4,0" vector-effect="non-scaling-stroke"/><path transform="translate(35.20,0)" d="M.2,-9.6 L4.8,-9.8" vector-effect="non-scaling-stroke"/><path transform="translate(40.40,0)" d="M1.65,-10 L1.65,0" vector-effect="non-scaling-stroke"/><path transform="translate(40.40,0)" d="M1.65,-13.4 L1.65,-13.1" vector-effect="non-scaling-stroke"/><path transform="translate(43.70,0)" d="M1,-4.8 L6.1,-5.6 Q6,-10 3.5,-10 Q.8,-9.6 .8,-5 Q1,0 3.8,0 Q5.4,0 6.4,-1.8" vector-effect="non-scaling-stroke"/><path transform="translate(50.70,0)" d="M1.2,-10 L1.2,0" vector-effect="non-scaling-stroke"/><path transform="translate(50.70,0)" d="M1.2,-6.8 Q2.8,-10.4 5.2,-9.3" vector-effect="non-scaling-stroke"/></g><g transform="translate(826.70,339.73) rotate(-3.00) skewX(-0.0) scale(1.520,1.011)"><path transform="translate(0.00,0)" d="M1.3,0 L1.3,-10 Q1.6,-15.5 4.9,-15.5 Q8.3,-15.5 8.6,-10 L8.6,0" vector-effect="non-scaling-stroke"/><path transform="translate(0.00,0)" d="M1.3,-6.4 L8.6,-6.4" vector-effect="non-scaling-stroke"/><path transform="translate(10.00,0)" d="M1.2,-10 L1.2,0" vector-effect="non-scaling-stroke"/><path transform="translate(10.00,0)" d="M1.2,-7.4 Q2.4,-10.6 3.8,-9.9 Q5.1,-9.2 5.1,-7 L5.1,0" vector-effect="non-scaling-stroke"/><path transform="translate(10.00,0)" d="M5.1,-7.4 Q6.4,-10.6 7.8,-9.9 Q9.2,-9.2 9.2,-7 L9.2,0" vector-effect="non-scaling-stroke"/><path transform="translate(20.80,0)" d="M1.2,-10 L1.2,3.8" vector-effect="non-scaling-stroke"/><path transform="translate(20.80,0)" d="M1.2,-7 Q3,-10.6 4.9,-9.8 Q6.8,-8.8 6.8,-5 Q6.8,-.6 4.3,0 Q2.6,.3 1.2,-2" vector-effect="non-scaling-stroke"/><path transform="translate(28.60,0)" d="M1.65,-15.5 L1.65,0" vector-effect="non-scaling-stroke"/><path transform="translate(31.90,0)" d="M1.65,-10 L1.65,0" vector-effect="non-scaling-stroke"/><path transform="translate(31.90,0)" d="M1.65,-13.4 L1.65,-13.1" vector-effect="non-scaling-stroke"/><path transform="translate(35.20,0)" d="M5.6,-14.4 Q3,-16.4 2.4,-12.6 L2.4,0" vector-effect="non-scaling-stroke"/><path transform="translate(35.20,0)" d="M.2,-9.6 L4.8,-9.8" vector-effect="non-scaling-stroke"/><path transform="translate(40.40,0)" d="M1.65,-10 L1.65,0" vector-effect="non-scaling-stroke"/><path transform="translate(40.40,0)" d="M1.65,-13.4 L1.65,-13.1" vector-effect="non-scaling-stroke"/><path transform="translate(43.70,0)" d="M1,-4.8 L6.1,-5.6 Q6,-10 3.5,-10 Q.8,-9.6 .8,-5 Q1,0 3.8,0 Q5.4,0 6.4,-1.8" vector-effect="non-scaling-stroke"/><path transform="translate(50.70,0)" d="M1.2,-10 L1.2,0" vector-effect="non-scaling-stroke"/><path transform="translate(50.70,0)" d="M1.2,-6.8 Q2.8,-10.4 5.2,-9.3" vector-effect="non-scaling-stroke"/></g><g transform="translate(827.65,339.73) rotate(-3.00) skewX(-0.0) scale(1.520,1.011)"><path transform="translate(0.00,0)" d="M1.3,0 L1.3,-10 Q1.6,-15.5 4.9,-15.5 Q8.3,-15.5 8.6,-10 L8.6,0" vector-effect="non-scaling-stroke"/><path transform="translate(0.00,0)" d="M1.3,-6.4 L8.6,-6.4" vector-effect="non-scaling-stroke"/><path transform="translate(10.00,0)" d="M1.2,-10 L1.2,0" vector-effect="non-scaling-stroke"/><path transform="translate(10.00,0)" d="M1.2,-7.4 Q2.4,-10.6 3.8,-9.9 Q5.1,-9.2 5.1,-7 L5.1,0" vector-effect="non-scaling-stroke"/><path transform="translate(10.00,0)" d="M5.1,-7.4 Q6.4,-10.6 7.8,-9.9 Q9.2,-9.2 9.2,-7 L9.2,0" vector-effect="non-scaling-stroke"/><path transform="translate(20.80,0)" d="M1.2,-10 L1.2,3.8" vector-effect="non-scaling-stroke"/><path transform="translate(20.80,0)" d="M1.2,-7 Q3,-10.6 4.9,-9.8 Q6.8,-8.8 6.8,-5 Q6.8,-.6 4.3,0 Q2.6,.3 1.2,-2" vector-effect="non-scaling-stroke"/><path transform="translate(28.60,0)" d="M1.65,-15.5 L1.65,0" vector-effect="non-scaling-stroke"/><path transform="translate(31.90,0)" d="M1.65,-10 L1.65,0" vector-effect="non-scaling-stroke"/><path transform="translate(31.90,0)" d="M1.65,-13.4 L1.65,-13.1" vector-effect="non-scaling-stroke"/><path transform="translate(35.20,0)" d="M5.6,-14.4 Q3,-16.4 2.4,-12.6 L2.4,0" vector-effect="non-scaling-stroke"/><path transform="translate(35.20,0)" d="M.2,-9.6 L4.8,-9.8" vector-effect="non-scaling-stroke"/><path transform="translate(40.40,0)" d="M1.65,-10 L1.65,0" vector-effect="non-scaling-stroke"/><path transform="translate(40.40,0)" d="M1.65,-13.4 L1.65,-13.1" vector-effect="non-scaling-stroke"/><path transform="translate(43.70,0)" d="M1,-4.8 L6.1,-5.6 Q6,-10 3.5,-10 Q.8,-9.6 .8,-5 Q1,0 3.8,0 Q5.4,0 6.4,-1.8" vector-effect="non-scaling-stroke"/><path transform="translate(50.70,0)" d="M1.2,-10 L1.2,0" vector-effect="non-scaling-stroke"/><path transform="translate(50.70,0)" d="M1.2,-6.8 Q2.8,-10.4 5.2,-9.3" vector-effect="non-scaling-stroke"/></g></g>
<g fill="none" stroke="#1b1b1b" stroke-width="1.7" stroke-linecap="round" stroke-linejoin="round"><g transform="translate(333.20,459.84) rotate(0.00) skewX(-12.0) scale(1.808,0.914)"><path transform="translate(0.00,0)" d="M3.40,-17.00 L2.00,-1.60" vector-effect="non-scaling-stroke"/><path transform="translate(0.00,0)" d="M0.40,-0.20 Q3.00,-2.60 5.00,-0.80 Q6.40,0.40 8.00,-1.40" vector-effect="non-scaling-stroke"/><path transform="translate(8.40,0)" d="M3.60,-10.00 Q0.80,-10.00 0.80,-5.00 Q0.80,0.00 3.60,0.00 Q6.40,0.00 6.40,-5.00 Q6.40,-10.00 3.60,-10.00 Z" vector-effect="non-scaling-stroke"/><path transform="translate(15.60,0)" d="M5.90,-8.20 Q4.20,-10.84 2.30,-9.30 Q0.70,-7.60 0.80,-4.40 Q1.00,0.00 3.50,0.00 Q5.20,0.00 6.10,-1.80" vector-effect="non-scaling-stroke"/><path transform="translate(22.00,0)" d="M6.70,-10.00 L6.70,0.00" vector-effect="non-scaling-stroke"/><path transform="translate(22.00,0)" d="M6.70,-7.00 Q5.00,-10.84 2.60,-9.60 Q0.70,-8.00 0.80,-4.40 Q1.00,0.00 3.40,0.00 Q5.60,-0.40 6.70,-3.20" vector-effect="non-scaling-stroke"/><path transform="translate(30.00,0)" d="M1.65,-17.70 L1.65,0.00" vector-effect="non-scaling-stroke"/></g><g transform="translate(334.10,459.84) rotate(0.00) skewX(-12.0) scale(1.808,0.914)"><path transform="translate(0.00,0)" d="M3.40,-17.00 L2.00,-1.60" vector-effect="non-scaling-stroke"/><path transform="translate(0.00,0)" d="M0.40,-0.20 Q3.00,-2.60 5.00,-0.80 Q6.40,0.40 8.00,-1.40" vector-effect="non-scaling-stroke"/><path transform="translate(8.40,0)" d="M3.60,-10.00 Q0.80,-10.00 0.80,-5.00 Q0.80,0.00 3.60,0.00 Q6.40,0.00 6.40,-5.00 Q6.40,-10.00 3.60,-10.00 Z" vector-effect="non-scaling-stroke"/><path transform="translate(15.60,0)" d="M5.90,-8.20 Q4.20,-10.84 2.30,-9.30 Q0.70,-7.60 0.80,-4.40 Q1.00,0.00 3.50,0.00 Q5.20,0.00 6.10,-1.80" vector-effect="non-scaling-stroke"/><path transform="translate(22.00,0)" d="M6.70,-10.00 L6.70,0.00" vector-effect="non-scaling-stroke"/><path transform="translate(22.00,0)" d="M6.70,-7.00 Q5.00,-10.84 2.60,-9.60 Q0.70,-8.00 0.80,-4.40 Q1.00,0.00 3.40,0.00 Q5.60,-0.40 6.70,-3.20" vector-effect="non-scaling-stroke"/><path transform="translate(30.00,0)" d="M1.65,-17.70 L1.65,0.00" vector-effect="non-scaling-stroke"/></g><g transform="translate(335.00,459.84) rotate(0.00) skewX(-12.0) scale(1.808,0.914)"><path transform="translate(0.00,0)" d="M3.40,-17.00 L2.00,-1.60" vector-effect="non-scaling-stroke"/><path transform="translate(0.00,0)" d="M0.40,-0.20 Q3.00,-2.60 5.00,-0.80 Q6.40,0.40 8.00,-1.40" vector-effect="non-scaling-stroke"/><path transform="translate(8.40,0)" d="M3.60,-10.00 Q0.80,-10.00 0.80,-5.00 Q0.80,0.00 3.60,0.00 Q6.40,0.00 6.40,-5.00 Q6.40,-10.00 3.60,-10.00 Z" vector-effect="non-scaling-stroke"/><path transform="translate(15.60,0)" d="M5.90,-8.20 Q4.20,-10.84 2.30,-9.30 Q0.70,-7.60 0.80,-4.40 Q1.00,0.00 3.50,0.00 Q5.20,0.00 6.10,-1.80" vector-effect="non-scaling-stroke"/><path transform="translate(22.00,0)" d="M6.70,-10.00 L6.70,0.00" vector-effect="non-scaling-stroke"/><path transform="translate(22.00,0)" d="M6.70,-7.00 Q5.00,-10.84 2.60,-9.60 Q0.70,-8.00 0.80,-4.40 Q1.00,0.00 3.40,0.00 Q5.60,-0.40 6.70,-3.20" vector-effect="non-scaling-stroke"/><path transform="translate(30.00,0)" d="M1.65,-17.70 L1.65,0.00" vector-effect="non-scaling-stroke"/></g></g>
<g fill="none" stroke="#1b1b1b" stroke-width="1.7" stroke-linecap="round" stroke-linejoin="round"><g transform="translate(328.20,488.22) rotate(0.00) skewX(-8.0) scale(1.455,0.889)"><path transform="translate(0.00,0)" d="M5.2,-15.5 Q.9,-15.5 .9,-7.8 Q.9,0 5.2,0 Q9.6,0 9.6,-7.8 Q9.6,-15.5 5.2,-15.5 Z" vector-effect="non-scaling-stroke"/></g><g transform="translate(329.10,488.22) rotate(0.00) skewX(-8.0) scale(1.455,0.889)"><path transform="translate(0.00,0)" d="M5.2,-15.5 Q.9,-15.5 .9,-7.8 Q.9,0 5.2,0 Q9.6,0 9.6,-7.8 Q9.6,-15.5 5.2,-15.5 Z" vector-effect="non-scaling-stroke"/></g><g transform="translate(330.00,488.22) rotate(0.00) skewX(-8.0) scale(1.455,0.889)"><path transform="translate(0.00,0)" d="M5.2,-15.5 Q.9,-15.5 .9,-7.8 Q.9,0 5.2,0 Q9.6,0 9.6,-7.8 Q9.6,-15.5 5.2,-15.5 Z" vector-effect="non-scaling-stroke"/></g></g>
<g fill="none" stroke="#1b1b1b" stroke-width="1.7" stroke-linecap="round" stroke-linejoin="round"><g transform="translate(345.75,487.60) rotate(0.00) skewX(-10.0) scale(1.451,0.887)"><path transform="translate(0.00,0)" d="M5.10,-8.60 Q3.50,-11.08 2.00,-9.60 Q0.50,-8.00 2.00,-6.00 L3.90,-4.20 Q5.60,-2.40 4.30,-0.80 Q2.90,0.70 0.60,-1.10" vector-effect="non-scaling-stroke"/><path transform="translate(5.80,0)" d="M5.90,-8.20 Q4.20,-11.08 2.30,-9.30 Q0.70,-7.60 0.80,-4.40 Q1.00,0.00 3.50,0.00 Q5.20,0.00 6.10,-1.80" vector-effect="non-scaling-stroke"/><path transform="translate(12.20,0)" d="M1.65,-10.00 L1.65,0.00" vector-effect="non-scaling-stroke"/><path transform="translate(12.20,0)" d="M1.65,-16.12 L1.65,-15.58" vector-effect="non-scaling-stroke"/><path transform="translate(15.50,0)" d="M1.65,-19.90 L1.65,0.00" vector-effect="non-scaling-stroke"/><path transform="translate(18.80,0)" d="M1.65,-19.90 L1.65,0.00" vector-effect="non-scaling-stroke"/><path transform="translate(22.10,0)" d="M6.70,-10.00 L6.70,0.00" vector-effect="non-scaling-stroke"/><path transform="translate(22.10,0)" d="M6.70,-7.00 Q5.00,-11.08 2.60,-9.60 Q0.70,-8.00 0.80,-4.40 Q1.00,0.00 3.40,0.00 Q5.60,-0.40 6.70,-3.20" vector-effect="non-scaling-stroke"/><path transform="translate(30.10,0)" d="M2.30,-16.12 L2.30,-2.00 Q2.50,0.10 4.70,-0.50" vector-effect="non-scaling-stroke"/><path transform="translate(30.10,0)" d="M0.20,-9.80 L4.70,-10.00" vector-effect="non-scaling-stroke"/><path transform="translate(35.10,0)" d="M3.60,-10.00 Q0.80,-10.00 0.80,-5.00 Q0.80,0.00 3.60,0.00 Q6.40,0.00 6.40,-5.00 Q6.40,-10.00 3.60,-10.00 Z" vector-effect="non-scaling-stroke"/><path transform="translate(42.30,0)" d="M1.20,-10.00 L1.20,0.00" vector-effect="non-scaling-stroke"/><path transform="translate(42.30,0)" d="M1.20,-6.40 Q3.00,-9.60 5.00,-7.40 Q6.40,-6.20 10.00,-7.20" vector-effect="non-scaling-stroke"/></g><g transform="translate(346.60,487.60) rotate(0.00) skewX(-10.0) scale(1.451,0.887)"><path transform="translate(0.00,0)" d="M5.10,-8.60 Q3.50,-11.08 2.00,-9.60 Q0.50,-8.00 2.00,-6.00 L3.90,-4.20 Q5.60,-2.40 4.30,-0.80 Q2.90,0.70 0.60,-1.10" vector-effect="non-scaling-stroke"/><path transform="translate(5.80,0)" d="M5.90,-8.20 Q4.20,-11.08 2.30,-9.30 Q0.70,-7.60 0.80,-4.40 Q1.00,0.00 3.50,0.00 Q5.20,0.00 6.10,-1.80" vector-effect="non-scaling-stroke"/><path transform="translate(12.20,0)" d="M1.65,-10.00 L1.65,0.00" vector-effect="non-scaling-stroke"/><path transform="translate(12.20,0)" d="M1.65,-16.12 L1.65,-15.58" vector-effect="non-scaling-stroke"/><path transform="translate(15.50,0)" d="M1.65,-19.90 L1.65,0.00" vector-effect="non-scaling-stroke"/><path transform="translate(18.80,0)" d="M1.65,-19.90 L1.65,0.00" vector-effect="non-scaling-stroke"/><path transform="translate(22.10,0)" d="M6.70,-10.00 L6.70,0.00" vector-effect="non-scaling-stroke"/><path transform="translate(22.10,0)" d="M6.70,-7.00 Q5.00,-11.08 2.60,-9.60 Q0.70,-8.00 0.80,-4.40 Q1.00,0.00 3.40,0.00 Q5.60,-0.40 6.70,-3.20" vector-effect="non-scaling-stroke"/><path transform="translate(30.10,0)" d="M2.30,-16.12 L2.30,-2.00 Q2.50,0.10 4.70,-0.50" vector-effect="non-scaling-stroke"/><path transform="translate(30.10,0)" d="M0.20,-9.80 L4.70,-10.00" vector-effect="non-scaling-stroke"/><path transform="translate(35.10,0)" d="M3.60,-10.00 Q0.80,-10.00 0.80,-5.00 Q0.80,0.00 3.60,0.00 Q6.40,0.00 6.40,-5.00 Q6.40,-10.00 3.60,-10.00 Z" vector-effect="non-scaling-stroke"/><path transform="translate(42.30,0)" d="M1.20,-10.00 L1.20,0.00" vector-effect="non-scaling-stroke"/><path transform="translate(42.30,0)" d="M1.20,-6.40 Q3.00,-9.60 5.00,-7.40 Q6.40,-6.20 10.00,-7.20" vector-effect="non-scaling-stroke"/></g><g transform="translate(347.45,487.60) rotate(0.00) skewX(-10.0) scale(1.451,0.887)"><path transform="translate(0.00,0)" d="M5.10,-8.60 Q3.50,-11.08 2.00,-9.60 Q0.50,-8.00 2.00,-6.00 L3.90,-4.20 Q5.60,-2.40 4.30,-0.80 Q2.90,0.70 0.60,-1.10" vector-effect="non-scaling-stroke"/><path transform="translate(5.80,0)" d="M5.90,-8.20 Q4.20,-11.08 2.30,-9.30 Q0.70,-7.60 0.80,-4.40 Q1.00,0.00 3.50,0.00 Q5.20,0.00 6.10,-1.80" vector-effect="non-scaling-stroke"/><path transform="translate(12.20,0)" d="M1.65,-10.00 L1.65,0.00" vector-effect="non-scaling-stroke"/><path transform="translate(12.20,0)" d="M1.65,-16.12 L1.65,-15.58" vector-effect="non-scaling-stroke"/><path transform="translate(15.50,0)" d="M1.65,-19.90 L1.65,0.00" vector-effect="non-scaling-stroke"/><path transform="translate(18.80,0)" d="M1.65,-19.90 L1.65,0.00" vector-effect="non-scaling-stroke"/><path transform="translate(22.10,0)" d="M6.70,-10.00 L6.70,0.00" vector-effect="non-scaling-stroke"/><path transform="translate(22.10,0)" d="M6.70,-7.00 Q5.00,-11.08 2.60,-9.60 Q0.70,-8.00 0.80,-4.40 Q1.00,0.00 3.40,0.00 Q5.60,-0.40 6.70,-3.20" vector-effect="non-scaling-stroke"/><path transform="translate(30.10,0)" d="M2.30,-16.12 L2.30,-2.00 Q2.50,0.10 4.70,-0.50" vector-effect="non-scaling-stroke"/><path transform="translate(30.10,0)" d="M0.20,-9.80 L4.70,-10.00" vector-effect="non-scaling-stroke"/><path transform="translate(35.10,0)" d="M3.60,-10.00 Q0.80,-10.00 0.80,-5.00 Q0.80,0.00 3.60,0.00 Q6.40,0.00 6.40,-5.00 Q6.40,-10.00 3.60,-10.00 Z" vector-effect="non-scaling-stroke"/><path transform="translate(42.30,0)" d="M1.20,-10.00 L1.20,0.00" vector-effect="non-scaling-stroke"/><path transform="translate(42.30,0)" d="M1.20,-6.40 Q3.00,-9.60 5.00,-7.40 Q6.40,-6.20 10.00,-7.20" vector-effect="non-scaling-stroke"/></g></g>
<g fill="none" stroke="#1b1b1b" stroke-width="1.9" stroke-linecap="round" stroke-linejoin="round"><g transform="translate(654.10,447.34) rotate(0.00) skewX(-0.0) scale(1.262,1.154)"><path transform="translate(0.00,0)" d="M1.3,0 L1.3,-10 Q1.6,-15.5 4.9,-15.5 Q8.3,-15.5 8.6,-10 L8.6,0" vector-effect="non-scaling-stroke"/><path transform="translate(0.00,0)" d="M1.3,-6.4 L8.6,-6.4" vector-effect="non-scaling-stroke"/></g><g transform="translate(655.10,447.34) rotate(0.00) skewX(-0.0) scale(1.262,1.154)"><path transform="translate(0.00,0)" d="M1.3,0 L1.3,-10 Q1.6,-15.5 4.9,-15.5 Q8.3,-15.5 8.6,-10 L8.6,0" vector-effect="non-scaling-stroke"/><path transform="translate(0.00,0)" d="M1.3,-6.4 L8.6,-6.4" vector-effect="non-scaling-stroke"/></g><g transform="translate(656.10,447.34) rotate(0.00) skewX(-0.0) scale(1.262,1.154)"><path transform="translate(0.00,0)" d="M1.3,0 L1.3,-10 Q1.6,-15.5 4.9,-15.5 Q8.3,-15.5 8.6,-10 L8.6,0" vector-effect="non-scaling-stroke"/><path transform="translate(0.00,0)" d="M1.3,-6.4 L8.6,-6.4" vector-effect="non-scaling-stroke"/></g></g>
<g fill="none" stroke="#1b1b1b" stroke-width="1.7" stroke-linecap="round" stroke-linejoin="round"><g transform="translate(669.35,443.70) rotate(-1.90) skewX(-0.0) scale(1.337,0.561)"><path transform="translate(0.00,0)" d="M1.20,-10.00 L1.20,-3.00 Q1.20,0.00 3.40,0.00 Q5.10,-0.30 6.10,-2.80" vector-effect="non-scaling-stroke"/><path transform="translate(0.00,0)" d="M6.10,-10.00 L6.10,0.00" vector-effect="non-scaling-stroke"/><path transform="translate(7.40,0)" d="M2.30,-16.80 L2.30,-2.00 Q2.50,0.10 4.70,-0.50" vector-effect="non-scaling-stroke"/><path transform="translate(7.40,0)" d="M0.20,-9.80 L4.70,-10.00" vector-effect="non-scaling-stroke"/><path transform="translate(12.40,0)" d="M3.60,-10.00 Q0.80,-10.00 0.80,-5.00 Q0.80,0.00 3.60,0.00 Q6.40,0.00 6.40,-5.00 Q6.40,-10.00 3.60,-10.00 Z" vector-effect="non-scaling-stroke"/><path transform="translate(19.60,0)" d="M1.20,-10.00 L1.20,0.00" vector-effect="non-scaling-stroke"/><path transform="translate(19.60,0)" d="M1.20,-7.40 Q2.40,-11.20 3.80,-9.90 Q5.10,-9.20 5.10,-7.00 L5.10,0.00" vector-effect="non-scaling-stroke"/><path transform="translate(19.60,0)" d="M5.10,-7.40 Q6.40,-11.20 7.80,-9.90 Q9.20,-9.20 9.20,-7.00 L9.20,0.00" vector-effect="non-scaling-stroke"/><path transform="translate(30.40,0)" d="M6.70,-10.00 L6.70,0.00" vector-effect="non-scaling-stroke"/><path transform="translate(30.40,0)" d="M6.70,-7.00 Q5.00,-11.20 2.60,-9.60 Q0.70,-8.00 0.80,-4.40 Q1.00,0.00 3.40,0.00 Q5.60,-0.40 6.70,-3.20" vector-effect="non-scaling-stroke"/><path transform="translate(38.40,0)" d="M2.30,-16.80 L2.30,-2.00 Q2.50,0.10 4.70,-0.50" vector-effect="non-scaling-stroke"/><path transform="translate(38.40,0)" d="M0.20,-9.80 L4.70,-10.00" vector-effect="non-scaling-stroke"/><path transform="translate(43.40,0)" d="M1.65,-10.00 L1.65,0.00" vector-effect="non-scaling-stroke"/><path transform="translate(43.40,0)" d="M1.65,-16.80 L1.65,-16.20" vector-effect="non-scaling-stroke"/><path transform="translate(46.70,0)" d="M5.90,-8.20 Q4.20,-11.20 2.30,-9.30 Q0.70,-7.60 0.80,-4.40 Q1.00,0.00 3.50,0.00 Q5.20,0.00 6.10,-1.80" vector-effect="non-scaling-stroke"/></g><g transform="translate(670.20,443.70) rotate(-1.90) skewX(-0.0) scale(1.337,0.561)"><path transform="translate(0.00,0)" d="M1.20,-10.00 L1.20,-3.00 Q1.20,0.00 3.40,0.00 Q5.10,-0.30 6.10,-2.80" vector-effect="non-scaling-stroke"/><path transform="translate(0.00,0)" d="M6.10,-10.00 L6.10,0.00" vector-effect="non-scaling-stroke"/><path transform="translate(7.40,0)" d="M2.30,-16.80 L2.30,-2.00 Q2.50,0.10 4.70,-0.50" vector-effect="non-scaling-stroke"/><path transform="translate(7.40,0)" d="M0.20,-9.80 L4.70,-10.00" vector-effect="non-scaling-stroke"/><path transform="translate(12.40,0)" d="M3.60,-10.00 Q0.80,-10.00 0.80,-5.00 Q0.80,0.00 3.60,0.00 Q6.40,0.00 6.40,-5.00 Q6.40,-10.00 3.60,-10.00 Z" vector-effect="non-scaling-stroke"/><path transform="translate(19.60,0)" d="M1.20,-10.00 L1.20,0.00" vector-effect="non-scaling-stroke"/><path transform="translate(19.60,0)" d="M1.20,-7.40 Q2.40,-11.20 3.80,-9.90 Q5.10,-9.20 5.10,-7.00 L5.10,0.00" vector-effect="non-scaling-stroke"/><path transform="translate(19.60,0)" d="M5.10,-7.40 Q6.40,-11.20 7.80,-9.90 Q9.20,-9.20 9.20,-7.00 L9.20,0.00" vector-effect="non-scaling-stroke"/><path transform="translate(30.40,0)" d="M6.70,-10.00 L6.70,0.00" vector-effect="non-scaling-stroke"/><path transform="translate(30.40,0)" d="M6.70,-7.00 Q5.00,-11.20 2.60,-9.60 Q0.70,-8.00 0.80,-4.40 Q1.00,0.00 3.40,0.00 Q5.60,-0.40 6.70,-3.20" vector-effect="non-scaling-stroke"/><path transform="translate(38.40,0)" d="M2.30,-16.80 L2.30,-2.00 Q2.50,0.10 4.70,-0.50" vector-effect="non-scaling-stroke"/><path transform="translate(38.40,0)" d="M0.20,-9.80 L4.70,-10.00" vector-effect="non-scaling-stroke"/><path transform="translate(43.40,0)" d="M1.65,-10.00 L1.65,0.00" vector-effect="non-scaling-stroke"/><path transform="translate(43.40,0)" d="M1.65,-16.80 L1.65,-16.20" vector-effect="non-scaling-stroke"/><path transform="translate(46.70,0)" d="M5.90,-8.20 Q4.20,-11.20 2.30,-9.30 Q0.70,-7.60 0.80,-4.40 Q1.00,0.00 3.50,0.00 Q5.20,0.00 6.10,-1.80" vector-effect="non-scaling-stroke"/></g><g transform="translate(671.05,443.70) rotate(-1.90) skewX(-0.0) scale(1.337,0.561)"><path transform="translate(0.00,0)" d="M1.20,-10.00 L1.20,-3.00 Q1.20,0.00 3.40,0.00 Q5.10,-0.30 6.10,-2.80" vector-effect="non-scaling-stroke"/><path transform="translate(0.00,0)" d="M6.10,-10.00 L6.10,0.00" vector-effect="non-scaling-stroke"/><path transform="translate(7.40,0)" d="M2.30,-16.80 L2.30,-2.00 Q2.50,0.10 4.70,-0.50" vector-effect="non-scaling-stroke"/><path transform="translate(7.40,0)" d="M0.20,-9.80 L4.70,-10.00" vector-effect="non-scaling-stroke"/><path transform="translate(12.40,0)" d="M3.60,-10.00 Q0.80,-10.00 0.80,-5.00 Q0.80,0.00 3.60,0.00 Q6.40,0.00 6.40,-5.00 Q6.40,-10.00 3.60,-10.00 Z" vector-effect="non-scaling-stroke"/><path transform="translate(19.60,0)" d="M1.20,-10.00 L1.20,0.00" vector-effect="non-scaling-stroke"/><path transform="translate(19.60,0)" d="M1.20,-7.40 Q2.40,-11.20 3.80,-9.90 Q5.10,-9.20 5.10,-7.00 L5.10,0.00" vector-effect="non-scaling-stroke"/><path transform="translate(19.60,0)" d="M5.10,-7.40 Q6.40,-11.20 7.80,-9.90 Q9.20,-9.20 9.20,-7.00 L9.20,0.00" vector-effect="non-scaling-stroke"/><path transform="translate(30.40,0)" d="M6.70,-10.00 L6.70,0.00" vector-effect="non-scaling-stroke"/><path transform="translate(30.40,0)" d="M6.70,-7.00 Q5.00,-11.20 2.60,-9.60 Q0.70,-8.00 0.80,-4.40 Q1.00,0.00 3.40,0.00 Q5.60,-0.40 6.70,-3.20" vector-effect="non-scaling-stroke"/><path transform="translate(38.40,0)" d="M2.30,-16.80 L2.30,-2.00 Q2.50,0.10 4.70,-0.50" vector-effect="non-scaling-stroke"/><path transform="translate(38.40,0)" d="M0.20,-9.80 L4.70,-10.00" vector-effect="non-scaling-stroke"/><path transform="translate(43.40,0)" d="M1.65,-10.00 L1.65,0.00" vector-effect="non-scaling-stroke"/><path transform="translate(43.40,0)" d="M1.65,-16.80 L1.65,-16.20" vector-effect="non-scaling-stroke"/><path transform="translate(46.70,0)" d="M5.90,-8.20 Q4.20,-11.20 2.30,-9.30 Q0.70,-7.60 0.80,-4.40 Q1.00,0.00 3.50,0.00 Q5.20,0.00 6.10,-1.80" vector-effect="non-scaling-stroke"/></g></g>
<g fill="none" stroke="#1b1b1b" stroke-width="1.8" stroke-linecap="round" stroke-linejoin="round"><g transform="translate(670.10,472.83) rotate(0.00) skewX(-0.0) scale(0.923,1.037)"><path transform="translate(0.00,0)" d="M3.4,-14.8 L3.4,0" vector-effect="non-scaling-stroke"/><path transform="translate(0.00,0)" d="M-2.6,-13.2 Q1,-16 5,-15.2 Q7.6,-14.8 9.6,-15.6 L9.4,-12.6" vector-effect="non-scaling-stroke"/><path transform="translate(0.00,0)" d="M3.4,-7.8 L7,-8.2" vector-effect="non-scaling-stroke"/></g><g transform="translate(671.00,472.83) rotate(0.00) skewX(-0.0) scale(0.923,1.037)"><path transform="translate(0.00,0)" d="M3.4,-14.8 L3.4,0" vector-effect="non-scaling-stroke"/><path transform="translate(0.00,0)" d="M-2.6,-13.2 Q1,-16 5,-15.2 Q7.6,-14.8 9.6,-15.6 L9.4,-12.6" vector-effect="non-scaling-stroke"/><path transform="translate(0.00,0)" d="M3.4,-7.8 L7,-8.2" vector-effect="non-scaling-stroke"/></g><g transform="translate(671.90,472.83) rotate(0.00) skewX(-0.0) scale(0.923,1.037)"><path transform="translate(0.00,0)" d="M3.4,-14.8 L3.4,0" vector-effect="non-scaling-stroke"/><path transform="translate(0.00,0)" d="M-2.6,-13.2 Q1,-16 5,-15.2 Q7.6,-14.8 9.6,-15.6 L9.4,-12.6" vector-effect="non-scaling-stroke"/><path transform="translate(0.00,0)" d="M3.4,-7.8 L7,-8.2" vector-effect="non-scaling-stroke"/></g></g>
<g fill="none" stroke="#1b1b1b" stroke-width="1.75" stroke-linecap="round" stroke-linejoin="round"><g transform="translate(679.95,471.99) rotate(0.00) skewX(-0.0) scale(1.258,0.795)"><path transform="translate(0.00,0)" d="M1.20,-10.00 L1.20,0.00" vector-effect="non-scaling-stroke"/><path transform="translate(0.00,0)" d="M1.20,-6.80 Q2.80,-10.40 5.20,-9.30" vector-effect="non-scaling-stroke"/><path transform="translate(5.40,0)" d="M1.00,-4.80 L6.10,-5.60 Q6.00,-10.00 3.50,-10.00 Q0.80,-9.60 0.80,-5.00 Q1.00,0.00 3.80,0.00 Q5.40,0.00 6.40,-1.80" vector-effect="non-scaling-stroke"/><path transform="translate(12.40,0)" d="M6.60,-10.00 L6.60,6.46" vector-effect="non-scaling-stroke"/><path transform="translate(12.40,0)" d="M6.60,-7.00 Q4.90,-10.60 2.90,-9.80 Q1.00,-8.80 1.00,-5.00 Q1.00,-0.60 3.50,0.00 Q5.20,0.51 6.60,-2.00" vector-effect="non-scaling-stroke"/><path transform="translate(20.20,0)" d="M1.20,-10.00 L1.20,-3.00 Q1.20,0.00 3.40,0.00 Q5.10,-0.30 6.10,-2.80" vector-effect="non-scaling-stroke"/><path transform="translate(20.20,0)" d="M6.10,-10.00 L6.10,0.00" vector-effect="non-scaling-stroke"/><path transform="translate(27.60,0)" d="M1.00,-4.80 L6.10,-5.60 Q6.00,-10.00 3.50,-10.00 Q0.80,-9.60 0.80,-5.00 Q1.00,0.00 3.80,0.00 Q5.40,0.00 6.40,-1.80" vector-effect="non-scaling-stroke"/><path transform="translate(34.60,0)" d="M1.20,-10.00 L1.20,0.00" vector-effect="non-scaling-stroke"/><path transform="translate(34.60,0)" d="M1.20,-7.40 Q2.80,-10.60 4.30,-9.90 Q5.80,-9.20 5.80,-7.00 L5.80,0.00" vector-effect="non-scaling-stroke"/><path transform="translate(41.80,0)" d="M5.90,-8.20 Q4.20,-10.60 2.30,-9.30 Q0.70,-7.60 0.80,-4.40 Q1.00,0.00 3.50,0.00 Q5.20,0.00 6.10,-1.80" vector-effect="non-scaling-stroke"/><path transform="translate(48.20,0)" d="M1.00,-10.00 L1.00,-3.60 Q1.20,-0.50 3.20,-0.50 Q4.90,-0.70 5.90,-3.00" vector-effect="non-scaling-stroke"/><path transform="translate(48.20,0)" d="M5.90,-10.00 L5.90,4.08 Q5.70,7.82 3.40,7.82 Q2.00,7.65 0.90,6.12" vector-effect="non-scaling-stroke"/></g><g transform="translate(680.80,471.99) rotate(0.00) skewX(-0.0) scale(1.258,0.795)"><path transform="translate(0.00,0)" d="M1.20,-10.00 L1.20,0.00" vector-effect="non-scaling-stroke"/><path transform="translate(0.00,0)" d="M1.20,-6.80 Q2.80,-10.40 5.20,-9.30" vector-effect="non-scaling-stroke"/><path transform="translate(5.40,0)" d="M1.00,-4.80 L6.10,-5.60 Q6.00,-10.00 3.50,-10.00 Q0.80,-9.60 0.80,-5.00 Q1.00,0.00 3.80,0.00 Q5.40,0.00 6.40,-1.80" vector-effect="non-scaling-stroke"/><path transform="translate(12.40,0)" d="M6.60,-10.00 L6.60,6.46" vector-effect="non-scaling-stroke"/><path transform="translate(12.40,0)" d="M6.60,-7.00 Q4.90,-10.60 2.90,-9.80 Q1.00,-8.80 1.00,-5.00 Q1.00,-0.60 3.50,0.00 Q5.20,0.51 6.60,-2.00" vector-effect="non-scaling-stroke"/><path transform="translate(20.20,0)" d="M1.20,-10.00 L1.20,-3.00 Q1.20,0.00 3.40,0.00 Q5.10,-0.30 6.10,-2.80" vector-effect="non-scaling-stroke"/><path transform="translate(20.20,0)" d="M6.10,-10.00 L6.10,0.00" vector-effect="non-scaling-stroke"/><path transform="translate(27.60,0)" d="M1.00,-4.80 L6.10,-5.60 Q6.00,-10.00 3.50,-10.00 Q0.80,-9.60 0.80,-5.00 Q1.00,0.00 3.80,0.00 Q5.40,0.00 6.40,-1.80" vector-effect="non-scaling-stroke"/><path transform="translate(34.60,0)" d="M1.20,-10.00 L1.20,0.00" vector-effect="non-scaling-stroke"/><path transform="translate(34.60,0)" d="M1.20,-7.40 Q2.80,-10.60 4.30,-9.90 Q5.80,-9.20 5.80,-7.00 L5.80,0.00" vector-effect="non-scaling-stroke"/><path transform="translate(41.80,0)" d="M5.90,-8.20 Q4.20,-10.60 2.30,-9.30 Q0.70,-7.60 0.80,-4.40 Q1.00,0.00 3.50,0.00 Q5.20,0.00 6.10,-1.80" vector-effect="non-scaling-stroke"/><path transform="translate(48.20,0)" d="M1.00,-10.00 L1.00,-3.60 Q1.20,-0.50 3.20,-0.50 Q4.90,-0.70 5.90,-3.00" vector-effect="non-scaling-stroke"/><path transform="translate(48.20,0)" d="M5.90,-10.00 L5.90,4.08 Q5.70,7.82 3.40,7.82 Q2.00,7.65 0.90,6.12" vector-effect="non-scaling-stroke"/></g><g transform="translate(681.65,471.99) rotate(0.00) skewX(-0.0) scale(1.258,0.795)"><path transform="translate(0.00,0)" d="M1.20,-10.00 L1.20,0.00" vector-effect="non-scaling-stroke"/><path transform="translate(0.00,0)" d="M1.20,-6.80 Q2.80,-10.40 5.20,-9.30" vector-effect="non-scaling-stroke"/><path transform="translate(5.40,0)" d="M1.00,-4.80 L6.10,-5.60 Q6.00,-10.00 3.50,-10.00 Q0.80,-9.60 0.80,-5.00 Q1.00,0.00 3.80,0.00 Q5.40,0.00 6.40,-1.80" vector-effect="non-scaling-stroke"/><path transform="translate(12.40,0)" d="M6.60,-10.00 L6.60,6.46" vector-effect="non-scaling-stroke"/><path transform="translate(12.40,0)" d="M6.60,-7.00 Q4.90,-10.60 2.90,-9.80 Q1.00,-8.80 1.00,-5.00 Q1.00,-0.60 3.50,0.00 Q5.20,0.51 6.60,-2.00" vector-effect="non-scaling-stroke"/><path transform="translate(20.20,0)" d="M1.20,-10.00 L1.20,-3.00 Q1.20,0.00 3.40,0.00 Q5.10,-0.30 6.10,-2.80" vector-effect="non-scaling-stroke"/><path transform="translate(20.20,0)" d="M6.10,-10.00 L6.10,0.00" vector-effect="non-scaling-stroke"/><path transform="translate(27.60,0)" d="M1.00,-4.80 L6.10,-5.60 Q6.00,-10.00 3.50,-10.00 Q0.80,-9.60 0.80,-5.00 Q1.00,0.00 3.80,0.00 Q5.40,0.00 6.40,-1.80" vector-effect="non-scaling-stroke"/><path transform="translate(34.60,0)" d="M1.20,-10.00 L1.20,0.00" vector-effect="non-scaling-stroke"/><path transform="translate(34.60,0)" d="M1.20,-7.40 Q2.80,-10.60 4.30,-9.90 Q5.80,-9.20 5.80,-7.00 L5.80,0.00" vector-effect="non-scaling-stroke"/><path transform="translate(41.80,0)" d="M5.90,-8.20 Q4.20,-10.60 2.30,-9.30 Q0.70,-7.60 0.80,-4.40 Q1.00,0.00 3.50,0.00 Q5.20,0.00 6.10,-1.80" vector-effect="non-scaling-stroke"/><path transform="translate(48.20,0)" d="M1.00,-10.00 L1.00,-3.60 Q1.20,-0.50 3.20,-0.50 Q4.90,-0.70 5.90,-3.00" vector-effect="non-scaling-stroke"/><path transform="translate(48.20,0)" d="M5.90,-10.00 L5.90,4.08 Q5.70,7.82 3.40,7.82 Q2.00,7.65 0.90,6.12" vector-effect="non-scaling-stroke"/></g></g>
<g fill="none" stroke="#1b1b1b" stroke-width="1.85" stroke-linecap="round" stroke-linejoin="round"><g transform="translate(673.95,501.58) rotate(0.00) skewX(-0.0) scale(1.669,1.050)"><path transform="translate(0.00,0)" d="M9,-12.8 Q6.8,-16.2 3.9,-15.2 Q.8,-13.8 .9,-7.8 Q1,-.6 4.8,0 Q7.8,.2 9.4,-2.8" vector-effect="non-scaling-stroke"/><path transform="translate(10.00,0)" d="M3.6,-10 Q.8,-10 .8,-5 Q.8,0 3.6,0 Q6.4,0 6.4,-5 Q6.4,-10 3.6,-10 Z" vector-effect="non-scaling-stroke"/><path transform="translate(17.20,0)" d="M1.2,-10 L1.2,0" vector-effect="non-scaling-stroke"/><path transform="translate(17.20,0)" d="M1.2,-7.4 Q2.8,-10.6 4.3,-9.9 Q5.8,-9.2 5.8,-7 L5.8,0" vector-effect="non-scaling-stroke"/><path transform="translate(24.40,0)" d="M2.3,-13.4 L2.3,-2 Q2.5,.1 4.7,-.5" vector-effect="non-scaling-stroke"/><path transform="translate(24.40,0)" d="M.2,-9.8 L4.7,-10" vector-effect="non-scaling-stroke"/><path transform="translate(29.40,0)" d="M1.2,-10 L1.2,0" vector-effect="non-scaling-stroke"/><path transform="translate(29.40,0)" d="M1.2,-6.8 Q2.8,-10.4 5.2,-9.3" vector-effect="non-scaling-stroke"/><path transform="translate(34.80,0)" d="M3.6,-10 Q.8,-10 .8,-5 Q.8,0 3.6,0 Q6.4,0 6.4,-5 Q6.4,-10 3.6,-10 Z" vector-effect="non-scaling-stroke"/><path transform="translate(42.00,0)" d="M1.65,-15.5 L1.65,0" vector-effect="non-scaling-stroke"/></g><g transform="translate(674.90,501.58) rotate(0.00) skewX(-0.0) scale(1.669,1.050)"><path transform="translate(0.00,0)" d="M9,-12.8 Q6.8,-16.2 3.9,-15.2 Q.8,-13.8 .9,-7.8 Q1,-.6 4.8,0 Q7.8,.2 9.4,-2.8" vector-effect="non-scaling-stroke"/><path transform="translate(10.00,0)" d="M3.6,-10 Q.8,-10 .8,-5 Q.8,0 3.6,0 Q6.4,0 6.4,-5 Q6.4,-10 3.6,-10 Z" vector-effect="non-scaling-stroke"/><path transform="translate(17.20,0)" d="M1.2,-10 L1.2,0" vector-effect="non-scaling-stroke"/><path transform="translate(17.20,0)" d="M1.2,-7.4 Q2.8,-10.6 4.3,-9.9 Q5.8,-9.2 5.8,-7 L5.8,0" vector-effect="non-scaling-stroke"/><path transform="translate(24.40,0)" d="M2.3,-13.4 L2.3,-2 Q2.5,.1 4.7,-.5" vector-effect="non-scaling-stroke"/><path transform="translate(24.40,0)" d="M.2,-9.8 L4.7,-10" vector-effect="non-scaling-stroke"/><path transform="translate(29.40,0)" d="M1.2,-10 L1.2,0" vector-effect="non-scaling-stroke"/><path transform="translate(29.40,0)" d="M1.2,-6.8 Q2.8,-10.4 5.2,-9.3" vector-effect="non-scaling-stroke"/><path transform="translate(34.80,0)" d="M3.6,-10 Q.8,-10 .8,-5 Q.8,0 3.6,0 Q6.4,0 6.4,-5 Q6.4,-10 3.6,-10 Z" vector-effect="non-scaling-stroke"/><path transform="translate(42.00,0)" d="M1.65,-15.5 L1.65,0" vector-effect="non-scaling-stroke"/></g><g transform="translate(675.85,501.58) rotate(0.00) skewX(-0.0) scale(1.669,1.050)"><path transform="translate(0.00,0)" d="M9,-12.8 Q6.8,-16.2 3.9,-15.2 Q.8,-13.8 .9,-7.8 Q1,-.6 4.8,0 Q7.8,.2 9.4,-2.8" vector-effect="non-scaling-stroke"/><path transform="translate(10.00,0)" d="M3.6,-10 Q.8,-10 .8,-5 Q.8,0 3.6,0 Q6.4,0 6.4,-5 Q6.4,-10 3.6,-10 Z" vector-effect="non-scaling-stroke"/><path transform="translate(17.20,0)" d="M1.2,-10 L1.2,0" vector-effect="non-scaling-stroke"/><path transform="translate(17.20,0)" d="M1.2,-7.4 Q2.8,-10.6 4.3,-9.9 Q5.8,-9.2 5.8,-7 L5.8,0" vector-effect="non-scaling-stroke"/><path transform="translate(24.40,0)" d="M2.3,-13.4 L2.3,-2 Q2.5,.1 4.7,-.5" vector-effect="non-scaling-stroke"/><path transform="translate(24.40,0)" d="M.2,-9.8 L4.7,-10" vector-effect="non-scaling-stroke"/><path transform="translate(29.40,0)" d="M1.2,-10 L1.2,0" vector-effect="non-scaling-stroke"/><path transform="translate(29.40,0)" d="M1.2,-6.8 Q2.8,-10.4 5.2,-9.3" vector-effect="non-scaling-stroke"/><path transform="translate(34.80,0)" d="M3.6,-10 Q.8,-10 .8,-5 Q.8,0 3.6,0 Q6.4,0 6.4,-5 Q6.4,-10 3.6,-10 Z" vector-effect="non-scaling-stroke"/><path transform="translate(42.00,0)" d="M1.65,-15.5 L1.65,0" vector-effect="non-scaling-stroke"/></g></g>
<g fill="none" stroke="#1b1b1b" stroke-width="2.0" stroke-linecap="round" stroke-linejoin="round"><g transform="translate(425.70,93.26) rotate(0.00) skewX(-6.0) scale(1.210,0.653)"><path transform="translate(0.00,0)" d="M1.3,0 L1.3,-10 Q1.6,-15.5 4.9,-15.5 Q8.3,-15.5 8.6,-10 L8.6,0" vector-effect="non-scaling-stroke"/><path transform="translate(0.00,0)" d="M1.3,-6.4 L8.6,-6.4" vector-effect="non-scaling-stroke"/></g><g transform="translate(426.50,93.26) rotate(0.00) skewX(-6.0) scale(1.210,0.653)"><path transform="translate(0.00,0)" d="M1.3,0 L1.3,-10 Q1.6,-15.5 4.9,-15.5 Q8.3,-15.5 8.6,-10 L8.6,0" vector-effect="non-scaling-stroke"/><path transform="translate(0.00,0)" d="M1.3,-6.4 L8.6,-6.4" vector-effect="non-scaling-stroke"/></g><g transform="translate(427.30,93.26) rotate(0.00) skewX(-6.0) scale(1.210,0.653)"><path transform="translate(0.00,0)" d="M1.3,0 L1.3,-10 Q1.6,-15.5 4.9,-15.5 Q8.3,-15.5 8.6,-10 L8.6,0" vector-effect="non-scaling-stroke"/><path transform="translate(0.00,0)" d="M1.3,-6.4 L8.6,-6.4" vector-effect="non-scaling-stroke"/></g></g>
<g fill="none" stroke="#1b1b1b" stroke-width="1.9" stroke-linecap="round" stroke-linejoin="round"><g transform="translate(440.50,91.58) rotate(-0.80) skewX(-6.0) scale(1.255,0.592)"><path transform="translate(0.00,0)" d="M1.4,0 L1.4,-15 L8.2,0 L8.2,-15" vector-effect="non-scaling-stroke"/><path transform="translate(11.80,0)" d="M4.5,-15 L4.5,0" vector-effect="non-scaling-stroke"/><path transform="translate(11.80,0)" d="M.2,-15 L8.8,-15" vector-effect="non-scaling-stroke"/><path transform="translate(23.00,0)" d="M1.6,-15 L1.6,0 L7,0" vector-effect="non-scaling-stroke"/><path transform="translate(23.00,0)" d="M1.6,-15 L7,-15" vector-effect="non-scaling-stroke"/><path transform="translate(23.00,0)" d="M1.6,-7.8 L6.2,-7.8" vector-effect="non-scaling-stroke"/><path transform="translate(32.80,0)" d="M1.4,0 L1.4,-15 L8.2,0 L8.2,-15" vector-effect="non-scaling-stroke"/><path transform="translate(44.60,0)" d="M1.4,0 L1.4,-15 L8.2,0 L8.2,-15" vector-effect="non-scaling-stroke"/><path transform="translate(56.40,0)" d="M1.3,0 L1.3,-10 Q1.6,-15.5 4.9,-15.5 Q8.3,-15.5 8.6,-10 L8.6,0" vector-effect="non-scaling-stroke"/><path transform="translate(56.40,0)" d="M1.3,-6.4 L8.6,-6.4" vector-effect="non-scaling-stroke"/></g><g transform="translate(441.20,91.58) rotate(-0.80) skewX(-6.0) scale(1.255,0.592)"><path transform="translate(0.00,0)" d="M1.4,0 L1.4,-15 L8.2,0 L8.2,-15" vector-effect="non-scaling-stroke"/><path transform="translate(11.80,0)" d="M4.5,-15 L4.5,0" vector-effect="non-scaling-stroke"/><path transform="translate(11.80,0)" d="M.2,-15 L8.8,-15" vector-effect="non-scaling-stroke"/><path transform="translate(23.00,0)" d="M1.6,-15 L1.6,0 L7,0" vector-effect="non-scaling-stroke"/><path transform="translate(23.00,0)" d="M1.6,-15 L7,-15" vector-effect="non-scaling-stroke"/><path transform="translate(23.00,0)" d="M1.6,-7.8 L6.2,-7.8" vector-effect="non-scaling-stroke"/><path transform="translate(32.80,0)" d="M1.4,0 L1.4,-15 L8.2,0 L8.2,-15" vector-effect="non-scaling-stroke"/><path transform="translate(44.60,0)" d="M1.4,0 L1.4,-15 L8.2,0 L8.2,-15" vector-effect="non-scaling-stroke"/><path transform="translate(56.40,0)" d="M1.3,0 L1.3,-10 Q1.6,-15.5 4.9,-15.5 Q8.3,-15.5 8.6,-10 L8.6,0" vector-effect="non-scaling-stroke"/><path transform="translate(56.40,0)" d="M1.3,-6.4 L8.6,-6.4" vector-effect="non-scaling-stroke"/></g><g transform="translate(441.90,91.58) rotate(-0.80) skewX(-6.0) scale(1.255,0.592)"><path transform="translate(0.00,0)" d="M1.4,0 L1.4,-15 L8.2,0 L8.2,-15" vector-effect="non-scaling-stroke"/><path transform="translate(11.80,0)" d="M4.5,-15 L4.5,0" vector-effect="non-scaling-stroke"/><path transform="translate(11.80,0)" d="M.2,-15 L8.8,-15" vector-effect="non-scaling-stroke"/><path transform="translate(23.00,0)" d="M1.6,-15 L1.6,0 L7,0" vector-effect="non-scaling-stroke"/><path transform="translate(23.00,0)" d="M1.6,-15 L7,-15" vector-effect="non-scaling-stroke"/><path transform="translate(23.00,0)" d="M1.6,-7.8 L6.2,-7.8" vector-effect="non-scaling-stroke"/><path transform="translate(32.80,0)" d="M1.4,0 L1.4,-15 L8.2,0 L8.2,-15" vector-effect="non-scaling-stroke"/><path transform="translate(44.60,0)" d="M1.4,0 L1.4,-15 L8.2,0 L8.2,-15" vector-effect="non-scaling-stroke"/><path transform="translate(56.40,0)" d="M1.3,0 L1.3,-10 Q1.6,-15.5 4.9,-15.5 Q8.3,-15.5 8.6,-10 L8.6,0" vector-effect="non-scaling-stroke"/><path transform="translate(56.40,0)" d="M1.3,-6.4 L8.6,-6.4" vector-effect="non-scaling-stroke"/></g></g>
</svg>
<div class="abs" id="cap" style="left:389.3px;top:688.3px;width:259.7px;font-weight:bold;font-size:14.6px;line-height:16px;text-align:justify;text-align-last:justify;letter-spacing:.15px">Block Diagram of the SSQ-1 sonobuoy.</div>
<div class="abs" id="hd" style="left:161.5px;top:724px;font-family:'Liberation Sans',sans-serif;font-weight:bold;font-size:27.5px;line-height:30px;letter-spacing:-.95px">Sonobuoy</div>
<div class="abs" id="cont" style="left:139.2px;top:753px;width:169px;font-style:italic;font-size:16.6px;line-height:18px;text-align:justify;text-align-last:justify;letter-spacing:.1px;-webkit-text-stroke:.15px #222">(Continued from page 21)</div>
<div class="l" style="left:92.3px;top:780.3px;width:247.2px;padding-left:17.3px;transform:rotate(-0.47deg)">Between the two amplifiers is a</div>
<div class="l" style="left:92.2px;top:798.9px;width:264.5px;transform:rotate(-0.45deg)">potentiometer called the “Random-</div>
<div class="l" style="left:92.1px;top:817.6px;width:264.4px;transform:rotate(-0.43deg)">Sea-Noise Adjust”. This control is</div>
<div class="l" style="left:92.0px;top:836.2px;width:264.4px;transform:rotate(-0.41deg)">carefully adjusted in the laboratory</div>
<div class="l" style="left:91.9px;top:854.9px;width:264.3px;transform:rotate(-0.39deg)">to eliminate interferences from sea</div>
<div class="l" style="left:91.9px;top:873.5px;width:264.3px;transform:rotate(-0.37deg)">noise. It is important that each</div>
<div class="l" style="left:91.8px;top:892.2px;width:264.2px;transform:rotate(-0.35deg)">Sonobuoy be adjusted to the same</div>
<div class="l" style="left:91.7px;top:910.8px;width:264.2px;transform:rotate(-0.33deg)">degree of sensitivity so that accu-</div>
<div class="l" style="left:91.6px;top:929.5px;width:264.2px;transform:rotate(-0.31deg)">rate comparison of the audio sig-</div>
<div class="l" style="left:91.5px;top:948.1px;width:264.1px;transform:rotate(-0.29deg)">nals can be made by the radio</div>
<div class="l e" style="left:91.4px;top:966.8px;width:264.1px;transform:rotate(-0.27deg)">operator.</div>
<div class="l" style="left:91.3px;top:985.4px;width:246.7px;padding-left:17.3px;transform:rotate(-0.25deg)">The output of the second audio</div>
<div class="l" style="left:91.2px;top:1004.1px;width:264.0px;transform:rotate(-0.23deg)">amplifier is R-C coupled to the</div>
<div class="l" style="left:91.2px;top:1022.8px;width:263.9px;transform:rotate(-0.21deg)">grid of the reactance modulator</div>
<div class="l" style="left:91.1px;top:1041.4px;width:263.9px;transform:rotate(-0.19deg)">tube, a 1L4. The reactance modu-</div>
<div class="l" style="left:91.0px;top:1060.0px;width:263.9px;transform:rotate(-0.17deg)">lator frequency modulates the tank</div>
<div class="l" style="left:90.9px;top:1078.7px;width:263.8px;transform:rotate(-0.15deg)">of an electron coupled Hartley</div>
<div class="l" style="left:90.8px;top:1097.3px;width:263.8px;transform:rotate(-0.13deg)">oscillator in the grid circuit of the</div>
<div class="l" style="left:90.7px;top:1116.0px;width:263.7px;transform:rotate(-0.11deg)">3Q4 oscillator tube. By using reac-</div>
<div class="l" style="left:90.6px;top:1134.6px;width:263.7px;transform:rotate(-0.09deg)">tance tube frequency modulation,</div>
<div class="l" style="left:90.5px;top:1153.3px;width:263.7px;transform:rotate(-0.07deg)">neglible power is needed for modu-</div>
<div class="l e" style="left:90.5px;top:1171.9px;width:263.6px;transform:rotate(-0.05deg)">lation.</div>
<div class="l" style="left:90.4px;top:1190.6px;width:246.3px;padding-left:17.3px;transform:rotate(-0.03deg)">The oscillator works in the vicin-</div>
<div class="l" style="left:90.3px;top:1209.2px;width:263.5px;">ity of 17 mcs with its plate circuit</div>
<div class="l" style="left:90.2px;top:1227.9px;width:263.5px;">tuned to the second harmonic. In</div>
<div class="l" style="left:90.1px;top:1246.5px;width:263.4px;transform:rotate(0.03deg)">the following stage, a power ampli-</div>
<div class="l" style="left:90.0px;top:1265.2px;width:263.4px;transform:rotate(0.05deg)">fier doubler, the frequency is again</div>
<div class="l" style="left:388.0px;top:721.2px;width:264.1px;transform:rotate(0.16deg)">doubled. Thus the transmitter is in</div>
<div class="l" style="left:387.9px;top:739.9px;width:264.1px;transform:rotate(0.17deg)">the 70 mc range and has a 75 kc</div>
<div class="l e" style="left:387.8px;top:758.7px;width:264.1px;transform:rotate(0.17deg)">maximum deviation.</div>
<div class="l" style="left:387.7px;top:777.4px;width:246.8px;padding-left:17.3px;transform:rotate(0.18deg)">The antenna system consists of a</div>
<div class="l" style="left:387.6px;top:796.2px;width:264.1px;transform:rotate(0.18deg)">vertical quarter-wave whip, cut to</div>
<div class="l" style="left:387.6px;top:814.9px;width:264.0px;transform:rotate(0.18deg)">39 inches. Insulators hold the an-</div>
<div class="l" style="left:387.5px;top:833.6px;width:264.0px;transform:rotate(0.19deg)">tenna base just above the surface</div>
<div class="l" style="left:387.4px;top:852.4px;width:264.0px;transform:rotate(0.19deg)">of the water. The radiated power is</div>
<div class="l" style="left:387.3px;top:871.1px;width:264.0px;transform:rotate(0.20deg)">approximately 1/10 watt which is</div>
<div class="l" style="left:387.2px;top:889.9px;width:264.0px;transform:rotate(0.20deg)">sufficient for line of sight transmis-</div>
<div class="l" style="left:387.1px;top:908.6px;width:264.0px;transform:rotate(0.20deg)">sion. A surface vessel can receive</div>
<div class="l" style="left:387.0px;top:927.3px;width:264.0px;transform:rotate(0.21deg)">the Sonobuoy transmissions from a</div>
<div class="l" style="left:386.9px;top:946.1px;width:264.0px;transform:rotate(0.21deg)">distance of up to 6 nautical miles,</div>
<div class="l" style="left:386.9px;top:964.8px;width:264.0px;transform:rotate(0.22deg)">while an aircraft at 5,000 feet can</div>
<div class="l" style="left:386.8px;top:983.6px;width:264.0px;transform:rotate(0.22deg)">receive Sonobuoy signals up to 50</div>
<div class="l e" style="left:386.7px;top:1002.3px;width:263.9px;transform:rotate(0.22deg)">nautical miles.</div>
<div class="l" style="left:386.6px;top:1021.0px;width:246.6px;padding-left:17.3px;transform:rotate(0.23deg)">Research and development engi-</div>
<div class="l" style="left:386.5px;top:1039.8px;width:263.9px;transform:rotate(0.23deg)">neering on the SSQ-1 was carried</div>
<div class="l" style="left:386.4px;top:1058.5px;width:263.9px;transform:rotate(0.24deg)">out at the Underwater Sound Lab-</div>
<div class="l" style="left:386.3px;top:1077.3px;width:263.9px;transform:rotate(0.24deg)">oratory of Columbia University at</div>
<div class="l" style="left:386.2px;top:1096.0px;width:263.9px;transform:rotate(0.24deg)"><span class="sp">New</span> <span class="sp">London,</span> <span class="sp">Conn.</span> under a</div>
<div class="l" style="left:386.2px;top:1114.7px;width:263.9px;transform:rotate(0.25deg)">National Defense Reserve Com-</div>
<div class="l" style="left:386.1px;top:1133.5px;width:263.9px;transform:rotate(0.25deg)">mission contract. Production Engi-</div>
<div class="l" style="left:386.0px;top:1152.2px;width:263.9px;transform:rotate(0.26deg)">neering and manufacturing was by</div>
<div class="l" style="left:385.9px;top:1171.0px;width:263.9px;transform:rotate(0.26deg)">Emerson Radio and Phonograph</div>
<div class="l" style="left:385.8px;top:1189.7px;width:263.8px;transform:rotate(0.26deg)">Company and Freed Radio Cor-</div>
<div class="l e" style="left:385.7px;top:1208.4px;width:263.8px;transform:rotate(0.27deg)">poration.</div>
<div class="l" style="left:385.6px;top:1227.2px;width:246.5px;padding-left:17.3px;transform:rotate(0.27deg)">Many hundreds of the SSQ-1</div>
<div class="l" style="left:385.5px;top:1245.9px;width:263.8px;transform:rotate(0.28deg)">were used in both the Atlantic and</div>
<div class="l" style="left:385.4px;top:1264.7px;width:263.8px;transform:rotate(0.28deg)">Pacific waters. They saw most of</div>
<div class="l" style="left:683.7px;top:722.6px;width:264.5px;">their action in 1943 when the</div>
<div class="l" style="left:683.6px;top:741.4px;width:264.5px;">German submarines were taking a</div>
<div class="l" style="left:683.5px;top:760.1px;width:264.5px;">tremendous toll of our shipping.</div>
<div class="l" style="left:683.4px;top:778.9px;width:264.5px;transform:rotate(0.03deg)">It was during this period when the</div>
<div class="l" style="left:683.3px;top:797.7px;width:264.5px;transform:rotate(0.04deg)">buoy was described as the “Ex-</div>
<div class="l e" style="left:683.3px;top:816.4px;width:264.5px;transform:rotate(0.04deg)">pendable Radio Sono Buoy.”</div>
<div class="l" style="left:683.2px;top:835.2px;width:247.2px;padding-left:17.3px;transform:rotate(0.05deg)">In 1951 modifications of the</div>
<div class="l" style="left:683.1px;top:854.0px;width:264.5px;transform:rotate(0.06deg)">Sonobuoy rapidly took place until</div>
<div class="l" style="left:683.0px;top:872.7px;width:264.5px;transform:rotate(0.07deg)">the development of the SSQ-2B</div>
<div class="l" style="left:682.9px;top:891.5px;width:264.5px;transform:rotate(0.08deg)">produced highly effective results in</div>
<div class="l" style="left:682.8px;top:910.3px;width:264.5px;transform:rotate(0.09deg)">submarine detection. In studying</div>
<div class="l" style="left:682.7px;top:929.0px;width:264.5px;transform:rotate(0.10deg)">the SSQ-2B Sonobuoy, we shall</div>
<div class="l" style="left:682.6px;top:947.8px;width:264.5px;transform:rotate(0.11deg)">only consider the additional fea-</div>
<div class="l e" style="left:682.6px;top:966.6px;width:264.5px;transform:rotate(0.12deg)">tures.</div>
<div class="l" style="left:682.5px;top:985.3px;width:247.2px;padding-left:17.3px;transform:rotate(0.12deg)">The audio amplifier stages and</div>
<div class="l" style="left:682.4px;top:1004.1px;width:264.6px;transform:rotate(0.13deg)"><span class="sp">transmitter</span> section <span class="sp">were</span> only</div>
<div class="l" style="left:682.3px;top:1022.9px;width:264.6px;transform:rotate(0.14deg)">slightly modified by using sub-</div>
<div class="l" style="left:682.2px;top:1041.6px;width:264.6px;transform:rotate(0.15deg)">miniature tubes in lieu of some of</div>
<div class="l" style="left:682.1px;top:1060.4px;width:264.6px;transform:rotate(0.16deg)">the miniature tubes to obtain bet-</div>
<div class="l" style="left:682.0px;top:1079.2px;width:264.6px;transform:rotate(0.17deg)">ter stability in the transmitter, and</div>
<div class="l" style="left:681.9px;top:1097.9px;width:264.6px;transform:rotate(0.18deg)">better frequency characteristics in</div>
<div class="l e" style="left:681.8px;top:1116.7px;width:264.6px;transform:rotate(0.19deg)">the audio amplifiers.</div>
<div class="l" style="left:681.8px;top:1135.5px;width:247.3px;padding-left:17.3px;transform:rotate(0.20deg)">Whereby the SSQ-1 required the</div>
<div class="l" style="left:681.7px;top:1154.2px;width:264.6px;transform:rotate(0.20deg)">pulling out of the antenna by hand</div>
<div class="l" style="left:681.6px;top:1173.0px;width:264.6px;transform:rotate(0.21deg)">to put it into position, (this action</div>
<div class="l" style="left:681.5px;top:1191.8px;width:264.6px;transform:rotate(0.22deg)">also connected the batteries into</div>
<div class="l" style="left:681.4px;top:1210.5px;width:264.6px;transform:rotate(0.23deg)">the circuit), the SSQ-2B requires</div>
<div class="l" style="left:681.3px;top:1229.3px;width:264.6px;transform:rotate(0.24deg)">no handling prior to its release</div>
<div class="l" style="left:681.2px;top:1248.0px;width:264.6px;transform:rotate(0.25deg)">from the aircraft. Sonobuoy racks</div>
<div class="l" style="left:681.1px;top:1266.8px;width:264.6px;transform:rotate(0.26deg)">were installed in the midsection of</div>
<div class="abs" id="pg" style="left:89.2px;top:1297.2px;font-weight:bold;font-size:13.4px;line-height:15px;letter-spacing:.2px;transform:scale(1.13,1);transform-origin:0 0">36</div>
<div class="abs" id="ft" style="left:654.9px;top:1299.6px;font-weight:bold;font-size:14px;line-height:17px;letter-spacing:2.86px;word-spacing:4.6px;transform:scale(1.112,1);transform-origin:0 0;-webkit-text-stroke:.2px #1d1d1d">THE WISCONSIN ENGINEER</div>
</div></body></html>
